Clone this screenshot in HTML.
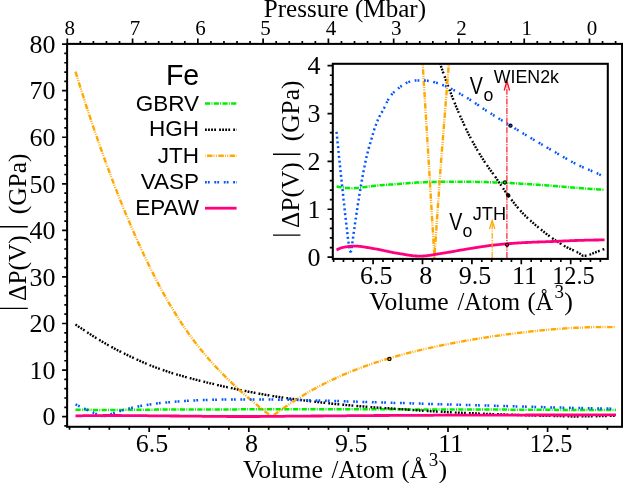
<!DOCTYPE html>
<html><head><meta charset="utf-8"><title>Fe</title>
<style>html,body{margin:0;padding:0;background:#fff}svg{display:block;will-change:transform}.se{font-family:"Liberation Serif",serif;fill:#000}.sa{font-family:"Liberation Sans",sans-serif;fill:#000}</style></head><body>
<svg width="623" height="483" viewBox="0 0 623 483">
<rect x="0" y="0" width="623" height="483" fill="#fff"/>
<defs><clipPath id="cm"><rect x="67.1" y="43.9" width="555" height="382.9"/></clipPath><clipPath id="ci"><rect x="332.8" y="63.8" width="275" height="195.1"/></clipPath></defs>
<g clip-path="url(#cm)" fill="none" stroke-linejoin="round">
<path d="M75.5,409.7 L76.6,409.7 L77.7,409.8 L78.7,409.8 L79.8,409.8 L80.9,409.8 L82.0,409.8 L83.1,409.8 L84.2,409.8 L85.2,409.8 L86.3,409.8 L87.4,409.8 L88.5,409.8 L89.6,409.8 L90.7,409.8 L91.7,409.9 L92.8,409.9 L93.9,409.9 L95.0,409.9 L96.1,409.9 L97.2,409.9 L98.2,409.9 L99.3,409.9 L100.4,409.9 L101.5,409.9 L102.6,409.9 L103.7,409.9 L104.7,409.9 L105.8,409.9 L106.9,409.9 L108.0,409.9 L109.1,409.9 L110.2,409.9 L111.2,409.9 L112.3,409.9 L113.4,409.9 L114.5,409.9 L115.6,409.9 L116.7,409.9 L117.7,409.9 L118.8,409.9 L119.9,409.9 L121.0,409.9 L122.1,409.9 L123.2,409.8 L124.2,409.8 L125.3,409.8 L126.4,409.8 L127.5,409.8 L128.6,409.8 L129.7,409.8 L130.7,409.8 L131.8,409.8 L132.9,409.8 L134.0,409.8 L135.1,409.8 L136.2,409.8 L137.2,409.8 L138.3,409.7 L139.4,409.7 L140.5,409.7 L141.6,409.7 L142.7,409.7 L143.7,409.7 L144.8,409.7 L145.9,409.7 L147.0,409.7 L148.1,409.7 L149.2,409.7 L150.2,409.7 L151.3,409.7 L152.4,409.7 L153.5,409.7 L154.6,409.7 L155.6,409.6 L156.7,409.6 L157.8,409.6 L158.9,409.6 L160.0,409.6 L161.1,409.6 L162.1,409.6 L163.2,409.6 L164.3,409.6 L165.4,409.6 L166.5,409.6 L167.6,409.6 L168.6,409.6 L169.7,409.6 L170.8,409.6 L171.9,409.6 L173.0,409.6 L174.1,409.6 L175.1,409.6 L176.2,409.6 L177.3,409.6 L178.4,409.6 L179.5,409.6 L180.6,409.6 L181.6,409.5 L182.7,409.5 L183.8,409.5 L184.9,409.5 L186.0,409.5 L187.1,409.5 L188.1,409.5 L189.2,409.5 L190.3,409.5 L191.4,409.5 L192.5,409.5 L193.6,409.5 L194.6,409.5 L195.7,409.5 L196.8,409.5 L197.9,409.5 L199.0,409.5 L200.1,409.5 L201.1,409.5 L202.2,409.5 L203.3,409.5 L204.4,409.5 L205.5,409.5 L206.6,409.5 L207.6,409.5 L208.7,409.5 L209.8,409.4 L210.9,409.4 L212.0,409.4 L213.1,409.4 L214.1,409.4 L215.2,409.4 L216.3,409.4 L217.4,409.4 L218.5,409.4 L219.6,409.4 L220.6,409.4 L221.7,409.4 L222.8,409.4 L223.9,409.4 L225.0,409.4 L226.1,409.4 L227.1,409.4 L228.2,409.4 L229.3,409.4 L230.4,409.4 L231.5,409.4 L232.6,409.4 L233.6,409.4 L234.7,409.4 L235.8,409.4 L236.9,409.4 L238.0,409.3 L239.1,409.3 L240.1,409.3 L241.2,409.3 L242.3,409.3 L243.4,409.3 L244.5,409.3 L245.6,409.3 L246.6,409.3 L247.7,409.3 L248.8,409.3 L249.9,409.3 L251.0,409.3 L252.1,409.3 L253.1,409.3 L254.2,409.3 L255.3,409.3 L256.4,409.3 L257.5,409.3 L258.5,409.3 L259.6,409.3 L260.7,409.3 L261.8,409.3 L262.9,409.3 L264.0,409.3 L265.0,409.3 L266.1,409.3 L267.2,409.3 L268.3,409.3 L269.4,409.3 L270.5,409.3 L271.5,409.3 L272.6,409.3 L273.7,409.3 L274.8,409.3 L275.9,409.3 L277.0,409.3 L278.0,409.3 L279.1,409.3 L280.2,409.3 L281.3,409.3 L282.4,409.3 L283.5,409.3 L284.5,409.3 L285.6,409.3 L286.7,409.3 L287.8,409.3 L288.9,409.3 L290.0,409.3 L291.0,409.3 L292.1,409.3 L293.2,409.3 L294.3,409.3 L295.4,409.3 L296.5,409.3 L297.5,409.3 L298.6,409.3 L299.7,409.3 L300.8,409.3 L301.9,409.3 L303.0,409.3 L304.0,409.3 L305.1,409.3 L306.2,409.3 L307.3,409.3 L308.4,409.3 L309.5,409.3 L310.5,409.3 L311.6,409.3 L312.7,409.3 L313.8,409.3 L314.9,409.3 L316.0,409.3 L317.0,409.3 L318.1,409.3 L319.2,409.3 L320.3,409.3 L321.4,409.3 L322.5,409.3 L323.5,409.3 L324.6,409.3 L325.7,409.3 L326.8,409.3 L327.9,409.3 L329.0,409.3 L330.0,409.3 L331.1,409.3 L332.2,409.3 L333.3,409.3 L334.4,409.3 L335.5,409.3 L336.5,409.3 L337.6,409.3 L338.7,409.3 L339.8,409.3 L340.9,409.3 L342.0,409.3 L343.0,409.3 L344.1,409.3 L345.2,409.3 L346.3,409.3 L347.4,409.3 L348.5,409.3 L349.5,409.3 L350.6,409.3 L351.7,409.3 L352.8,409.3 L353.9,409.3 L355.0,409.3 L356.0,409.3 L357.1,409.3 L358.2,409.3 L359.3,409.3 L360.4,409.3 L361.4,409.3 L362.5,409.3 L363.6,409.3 L364.7,409.3 L365.8,409.3 L366.9,409.3 L367.9,409.3 L369.0,409.3 L370.1,409.3 L371.2,409.3 L372.3,409.3 L373.4,409.3 L374.4,409.3 L375.5,409.3 L376.6,409.3 L377.7,409.3 L378.8,409.3 L379.9,409.3 L380.9,409.3 L382.0,409.3 L383.1,409.3 L384.2,409.3 L385.3,409.3 L386.4,409.3 L387.4,409.3 L388.5,409.3 L389.6,409.3 L390.7,409.3 L391.8,409.3 L392.9,409.3 L393.9,409.3 L395.0,409.3 L396.1,409.3 L397.2,409.3 L398.3,409.3 L399.4,409.3 L400.4,409.3 L401.5,409.3 L402.6,409.3 L403.7,409.3 L404.8,409.3 L405.9,409.4 L406.9,409.4 L408.0,409.4 L409.1,409.4 L410.2,409.4 L411.3,409.4 L412.4,409.4 L413.4,409.4 L414.5,409.4 L415.6,409.4 L416.7,409.4 L417.8,409.4 L418.9,409.4 L419.9,409.4 L421.0,409.4 L422.1,409.4 L423.2,409.4 L424.3,409.4 L425.4,409.4 L426.4,409.4 L427.5,409.4 L428.6,409.4 L429.7,409.4 L430.8,409.4 L431.9,409.4 L432.9,409.4 L434.0,409.4 L435.1,409.4 L436.2,409.4 L437.3,409.4 L438.4,409.4 L439.4,409.4 L440.5,409.4 L441.6,409.4 L442.7,409.4 L443.8,409.4 L444.9,409.5 L445.9,409.5 L447.0,409.5 L448.1,409.5 L449.2,409.5 L450.3,409.5 L451.4,409.5 L452.4,409.5 L453.5,409.5 L454.6,409.5 L455.7,409.5 L456.8,409.5 L457.9,409.5 L458.9,409.5 L460.0,409.5 L461.1,409.5 L462.2,409.5 L463.3,409.5 L464.3,409.5 L465.4,409.5 L466.5,409.5 L467.6,409.5 L468.7,409.5 L469.8,409.5 L470.8,409.5 L471.9,409.5 L473.0,409.5 L474.1,409.5 L475.2,409.5 L476.3,409.5 L477.3,409.5 L478.4,409.6 L479.5,409.6 L480.6,409.6 L481.7,409.6 L482.8,409.6 L483.8,409.6 L484.9,409.6 L486.0,409.6 L487.1,409.6 L488.2,409.6 L489.3,409.6 L490.3,409.6 L491.4,409.6 L492.5,409.6 L493.6,409.6 L494.7,409.6 L495.8,409.6 L496.8,409.6 L497.9,409.6 L499.0,409.6 L500.1,409.6 L501.2,409.6 L502.3,409.6 L503.3,409.6 L504.4,409.6 L505.5,409.6 L506.6,409.6 L507.7,409.7 L508.8,409.7 L509.8,409.7 L510.9,409.7 L512.0,409.7 L513.1,409.7 L514.2,409.7 L515.3,409.7 L516.3,409.7 L517.4,409.7 L518.5,409.7 L519.6,409.7 L520.7,409.7 L521.8,409.7 L522.8,409.7 L523.9,409.7 L525.0,409.7 L526.1,409.7 L527.2,409.7 L528.3,409.7 L529.3,409.7 L530.4,409.7 L531.5,409.7 L532.6,409.8 L533.7,409.8 L534.8,409.8 L535.8,409.8 L536.9,409.8 L538.0,409.8 L539.1,409.8 L540.2,409.8 L541.3,409.8 L542.3,409.8 L543.4,409.8 L544.5,409.8 L545.6,409.8 L546.7,409.8 L547.8,409.8 L548.8,409.8 L549.9,409.8 L551.0,409.8 L552.1,409.8 L553.2,409.8 L554.3,409.8 L555.3,409.8 L556.4,409.9 L557.5,409.9 L558.6,409.9 L559.7,409.9 L560.8,409.9 L561.8,409.9 L562.9,409.9 L564.0,409.9 L565.1,409.9 L566.2,409.9 L567.2,409.9 L568.3,409.9 L569.4,409.9 L570.5,409.9 L571.6,409.9 L572.7,409.9 L573.7,409.9 L574.8,409.9 L575.9,409.9 L577.0,409.9 L578.1,409.9 L579.2,409.9 L580.2,409.9 L581.3,409.9 L582.4,409.9 L583.5,410.0 L584.6,410.0 L585.7,410.0 L586.7,410.0 L587.8,410.0 L588.9,410.0 L590.0,410.0 L591.1,410.0 L592.2,410.0 L593.2,410.0 L594.3,410.0 L595.4,410.0 L596.5,410.0 L597.6,410.0 L598.7,410.0 L599.7,410.0 L600.8,410.0 L601.9,410.0 L603.0,410.0 L604.1,410.0 L605.2,410.0 L606.2,410.0 L607.3,410.0 L608.4,410.0 L609.5,410.0 L610.6,410.0 L611.7,410.0 L612.7,410.0 L613.8,410.0 L614.9,410.0 L616.0,410.0" stroke="#00ee00" stroke-width="2.5" stroke-dasharray="5.2 1.2 1 1.3"/>
<path d="M75.5,324.4 L76.6,325.2 L77.7,325.9 L78.7,326.7 L79.8,327.4 L80.9,328.1 L82.0,328.9 L83.1,329.6 L84.2,330.3 L85.2,331.0 L86.3,331.7 L87.4,332.4 L88.5,333.2 L89.6,333.9 L90.7,334.5 L91.7,335.2 L92.8,335.9 L93.9,336.6 L95.0,337.3 L96.1,338.0 L97.2,338.6 L98.2,339.3 L99.3,339.9 L100.4,340.6 L101.5,341.2 L102.6,341.9 L103.7,342.5 L104.7,343.1 L105.8,343.8 L106.9,344.4 L108.0,345.0 L109.1,345.6 L110.2,346.2 L111.2,346.8 L112.3,347.4 L113.4,348.0 L114.5,348.6 L115.6,349.1 L116.7,349.7 L117.7,350.3 L118.8,350.8 L119.9,351.4 L121.0,351.9 L122.1,352.5 L123.2,353.0 L124.2,353.5 L125.3,354.1 L126.4,354.6 L127.5,355.1 L128.6,355.7 L129.7,356.2 L130.7,356.7 L131.8,357.2 L132.9,357.7 L134.0,358.2 L135.1,358.7 L136.2,359.2 L137.2,359.7 L138.3,360.2 L139.4,360.7 L140.5,361.2 L141.6,361.6 L142.7,362.1 L143.7,362.6 L144.8,363.0 L145.9,363.5 L147.0,364.0 L148.1,364.4 L149.2,364.8 L150.2,365.3 L151.3,365.7 L152.4,366.2 L153.5,366.6 L154.6,367.0 L155.6,367.4 L156.7,367.8 L157.8,368.2 L158.9,368.6 L160.0,369.0 L161.1,369.4 L162.1,369.8 L163.2,370.1 L164.3,370.5 L165.4,370.9 L166.5,371.2 L167.6,371.6 L168.6,371.9 L169.7,372.3 L170.8,372.6 L171.9,373.0 L173.0,373.3 L174.1,373.6 L175.1,374.0 L176.2,374.3 L177.3,374.6 L178.4,374.9 L179.5,375.2 L180.6,375.6 L181.6,375.9 L182.7,376.2 L183.8,376.5 L184.9,376.8 L186.0,377.1 L187.1,377.4 L188.1,377.7 L189.2,378.0 L190.3,378.2 L191.4,378.5 L192.5,378.8 L193.6,379.1 L194.6,379.4 L195.7,379.7 L196.8,379.9 L197.9,380.2 L199.0,380.5 L200.1,380.8 L201.1,381.0 L202.2,381.3 L203.3,381.6 L204.4,381.8 L205.5,382.1 L206.6,382.4 L207.6,382.6 L208.7,382.9 L209.8,383.2 L210.9,383.4 L212.0,383.7 L213.1,383.9 L214.1,384.2 L215.2,384.5 L216.3,384.7 L217.4,385.0 L218.5,385.2 L219.6,385.5 L220.6,385.7 L221.7,386.0 L222.8,386.2 L223.9,386.5 L225.0,386.7 L226.1,386.9 L227.1,387.2 L228.2,387.4 L229.3,387.7 L230.4,387.9 L231.5,388.1 L232.6,388.4 L233.6,388.6 L234.7,388.8 L235.8,389.1 L236.9,389.3 L238.0,389.5 L239.1,389.7 L240.1,390.0 L241.2,390.2 L242.3,390.4 L243.4,390.6 L244.5,390.8 L245.6,391.0 L246.6,391.2 L247.7,391.5 L248.8,391.7 L249.9,391.9 L251.0,392.1 L252.1,392.3 L253.1,392.5 L254.2,392.7 L255.3,392.9 L256.4,393.1 L257.5,393.3 L258.5,393.5 L259.6,393.7 L260.7,393.9 L261.8,394.1 L262.9,394.3 L264.0,394.5 L265.0,394.7 L266.1,394.9 L267.2,395.0 L268.3,395.2 L269.4,395.4 L270.5,395.6 L271.5,395.8 L272.6,396.0 L273.7,396.1 L274.8,396.3 L275.9,396.5 L277.0,396.7 L278.0,396.8 L279.1,397.0 L280.2,397.2 L281.3,397.3 L282.4,397.5 L283.5,397.7 L284.5,397.8 L285.6,398.0 L286.7,398.1 L287.8,398.3 L288.9,398.4 L290.0,398.6 L291.0,398.7 L292.1,398.9 L293.2,399.0 L294.3,399.2 L295.4,399.3 L296.5,399.4 L297.5,399.6 L298.6,399.7 L299.7,399.9 L300.8,400.0 L301.9,400.1 L303.0,400.3 L304.0,400.4 L305.1,400.6 L306.2,400.7 L307.3,400.8 L308.4,401.0 L309.5,401.1 L310.5,401.2 L311.6,401.4 L312.7,401.5 L313.8,401.6 L314.9,401.7 L316.0,401.9 L317.0,402.0 L318.1,402.1 L319.2,402.2 L320.3,402.4 L321.4,402.5 L322.5,402.6 L323.5,402.7 L324.6,402.8 L325.7,403.0 L326.8,403.1 L327.9,403.2 L329.0,403.3 L330.0,403.4 L331.1,403.5 L332.2,403.7 L333.3,403.8 L334.4,403.9 L335.5,404.0 L336.5,404.1 L337.6,404.2 L338.7,404.3 L339.8,404.4 L340.9,404.5 L342.0,404.6 L343.0,404.7 L344.1,404.8 L345.2,405.0 L346.3,405.1 L347.4,405.2 L348.5,405.3 L349.5,405.3 L350.6,405.4 L351.7,405.5 L352.8,405.6 L353.9,405.7 L355.0,405.8 L356.0,405.9 L357.1,406.0 L358.2,406.1 L359.3,406.2 L360.4,406.3 L361.4,406.4 L362.5,406.4 L363.6,406.5 L364.7,406.6 L365.8,406.7 L366.9,406.8 L367.9,406.9 L369.0,407.0 L370.1,407.0 L371.2,407.1 L372.3,407.2 L373.4,407.3 L374.4,407.4 L375.5,407.4 L376.6,407.5 L377.7,407.6 L378.8,407.7 L379.9,407.7 L380.9,407.8 L382.0,407.9 L383.1,408.0 L384.2,408.0 L385.3,408.1 L386.4,408.2 L387.4,408.3 L388.5,408.3 L389.6,408.4 L390.7,408.5 L391.8,408.5 L392.9,408.6 L393.9,408.7 L395.0,408.8 L396.1,408.8 L397.2,408.9 L398.3,409.0 L399.4,409.1 L400.4,409.1 L401.5,409.2 L402.6,409.3 L403.7,409.4 L404.8,409.4 L405.9,409.5 L406.9,409.6 L408.0,409.7 L409.1,409.8 L410.2,409.8 L411.3,409.9 L412.4,410.0 L413.4,410.1 L414.5,410.1 L415.6,410.2 L416.7,410.3 L417.8,410.4 L418.9,410.4 L419.9,410.5 L421.0,410.6 L422.1,410.6 L423.2,410.7 L424.3,410.8 L425.4,410.8 L426.4,410.9 L427.5,411.0 L428.6,411.0 L429.7,411.1 L430.8,411.2 L431.9,411.2 L432.9,411.3 L434.0,411.4 L435.1,411.4 L436.2,411.5 L437.3,411.6 L438.4,411.6 L439.4,411.7 L440.5,411.8 L441.6,411.8 L442.7,411.9 L443.8,411.9 L444.9,412.0 L445.9,412.1 L447.0,412.1 L448.1,412.2 L449.2,412.2 L450.3,412.3 L451.4,412.4 L452.4,412.4 L453.5,412.5 L454.6,412.5 L455.7,412.6 L456.8,412.6 L457.9,412.7 L458.9,412.7 L460.0,412.8 L461.1,412.8 L462.2,412.9 L463.3,412.9 L464.3,413.0 L465.4,413.0 L466.5,413.1 L467.6,413.1 L468.7,413.2 L469.8,413.2 L470.8,413.2 L471.9,413.3 L473.0,413.3 L474.1,413.4 L475.2,413.4 L476.3,413.5 L477.3,413.5 L478.4,413.5 L479.5,413.6 L480.6,413.6 L481.7,413.7 L482.8,413.7 L483.8,413.8 L484.9,413.8 L486.0,413.9 L487.1,413.9 L488.2,413.9 L489.3,414.0 L490.3,414.0 L491.4,414.1 L492.5,414.1 L493.6,414.1 L494.7,414.2 L495.8,414.2 L496.8,414.3 L497.9,414.3 L499.0,414.3 L500.1,414.4 L501.2,414.4 L502.3,414.5 L503.3,414.5 L504.4,414.5 L505.5,414.6 L506.6,414.6 L507.7,414.7 L508.8,414.7 L509.8,414.7 L510.9,414.8 L512.0,414.8 L513.1,414.8 L514.2,414.9 L515.3,414.9 L516.3,414.9 L517.4,415.0 L518.5,415.0 L519.6,415.1 L520.7,415.1 L521.8,415.1 L522.8,415.2 L523.9,415.2 L525.0,415.2 L526.1,415.3 L527.2,415.3 L528.3,415.3 L529.3,415.4 L530.4,415.4 L531.5,415.4 L532.6,415.4 L533.7,415.5 L534.8,415.5 L535.8,415.5 L536.9,415.6 L538.0,415.6 L539.1,415.6 L540.2,415.7 L541.3,415.7 L542.3,415.7 L543.4,415.7 L544.5,415.8 L545.6,415.8 L546.7,415.8 L547.8,415.8 L548.8,415.9 L549.9,415.9 L551.0,415.9 L552.1,415.9 L553.2,416.0 L554.3,416.0 L555.3,416.0 L556.4,416.0 L557.5,416.0 L558.6,416.1 L559.7,416.1 L560.8,416.1 L561.8,416.2 L562.9,416.2 L564.0,416.2 L565.1,416.2 L566.2,416.3 L567.2,416.3 L568.3,416.3 L569.4,416.4 L570.5,416.4 L571.6,416.5 L572.7,416.5 L573.7,416.5 L574.8,416.5 L575.9,416.5 L577.0,416.5 L578.1,416.5 L579.2,416.5 L580.2,416.5 L581.3,416.5 L582.4,416.4 L583.5,416.4 L584.6,416.4 L585.7,416.4 L586.7,416.3 L587.8,416.3 L588.9,416.3 L590.0,416.3 L591.1,416.3 L592.2,416.2 L593.2,416.2 L594.3,416.2 L595.4,416.2 L596.5,416.2 L597.6,416.1 L598.7,416.1 L599.7,416.1 L600.8,416.1 L601.9,416.1 L603.0,416.0 L604.1,416.0 L605.2,416.0 L606.2,416.0 L607.3,416.0 L608.4,415.9 L609.5,415.9 L610.6,415.9 L611.7,415.9 L612.7,415.9 L613.8,415.8 L614.9,415.8 L616.0,415.8" stroke="#000000" stroke-width="2.4" stroke-dasharray="1.8 1.27 1.8 1.27 1.8 1.27 1.8 3.1"/>
<path d="M75.5,71.6 L76.6,75.1 L77.7,78.6 L78.7,82.1 L79.8,85.6 L80.9,89.1 L82.0,92.5 L83.1,95.9 L84.2,99.3 L85.2,102.7 L86.3,106.0 L87.4,109.3 L88.5,112.6 L89.6,115.9 L90.7,119.1 L91.7,122.3 L92.8,125.6 L93.9,128.7 L95.0,131.9 L96.1,135.0 L97.2,138.2 L98.2,141.3 L99.3,144.4 L100.4,147.4 L101.5,150.5 L102.6,153.5 L103.7,156.5 L104.7,159.5 L105.8,162.4 L106.9,165.4 L108.0,168.3 L109.1,171.2 L110.2,174.1 L111.2,177.0 L112.3,179.8 L113.4,182.6 L114.5,185.5 L115.6,188.2 L116.7,191.0 L117.7,193.8 L118.8,196.5 L119.9,199.2 L121.0,201.9 L122.1,204.6 L123.2,207.3 L124.2,209.9 L125.3,212.6 L126.4,215.2 L127.5,217.8 L128.6,220.3 L129.7,222.9 L130.7,225.4 L131.8,227.9 L132.9,230.4 L134.0,232.9 L135.1,235.4 L136.2,237.8 L137.2,240.3 L138.3,242.7 L139.4,245.1 L140.5,247.4 L141.6,249.8 L142.7,252.1 L143.7,254.4 L144.8,256.7 L145.9,259.0 L147.0,261.3 L148.1,263.5 L149.2,265.7 L150.2,268.0 L151.3,270.1 L152.4,272.3 L153.5,274.4 L154.6,276.6 L155.6,278.7 L156.7,280.8 L157.8,282.8 L158.9,284.9 L160.0,286.9 L161.1,288.9 L162.1,290.9 L163.2,292.9 L164.3,294.8 L165.4,296.7 L166.5,298.6 L167.6,300.5 L168.6,302.4 L169.7,304.3 L170.8,306.1 L171.9,307.9 L173.0,309.7 L174.1,311.5 L175.1,313.2 L176.2,315.0 L177.3,316.7 L178.4,318.4 L179.5,320.1 L180.6,321.7 L181.6,323.4 L182.7,325.0 L183.8,326.6 L184.9,328.2 L186.0,329.8 L187.1,331.3 L188.1,332.8 L189.2,334.4 L190.3,335.9 L191.4,337.4 L192.5,338.8 L193.6,340.3 L194.6,341.7 L195.7,343.1 L196.8,344.5 L197.9,345.9 L199.0,347.3 L200.1,348.6 L201.1,350.0 L202.2,351.3 L203.3,352.6 L204.4,353.9 L205.5,355.2 L206.6,356.5 L207.6,357.7 L208.7,359.0 L209.8,360.2 L210.9,361.4 L212.0,362.6 L213.1,363.8 L214.1,365.0 L215.2,366.2 L216.3,367.4 L217.4,368.5 L218.5,369.7 L219.6,370.8 L220.6,371.9 L221.7,373.0 L222.8,374.1 L223.9,375.2 L225.0,376.3 L226.1,377.4 L227.1,378.4 L228.2,379.5 L229.3,380.5 L230.4,381.6 L231.5,382.6 L232.6,383.6 L233.6,384.7 L234.7,385.7 L235.8,386.7 L236.9,387.7 L238.0,388.7 L239.1,389.6 L240.1,390.6 L241.2,391.6 L242.3,392.5 L243.4,393.5 L244.5,394.5 L245.6,395.4 L246.6,396.3 L247.7,397.3 L248.8,398.2 L249.9,399.1 L251.0,400.0 L252.1,400.9 L253.1,401.9 L254.2,402.8 L255.3,403.6 L256.4,404.5 L257.5,405.4 L258.5,406.3 L259.6,407.2 L260.7,408.0 L261.8,408.9 L262.9,409.8 L264.0,410.6 L265.0,411.5 L266.1,412.3 L267.2,413.1 L268.3,414.0 L269.4,414.8 L270.5,415.6 L271.5,416.4 L272.6,416.0 L273.7,415.1 L274.8,414.3 L275.9,413.6 L277.0,412.8 L278.0,412.0 L279.1,411.2 L280.2,410.4 L281.3,409.7 L282.4,408.9 L283.5,408.1 L284.5,407.4 L285.6,406.6 L286.7,405.9 L287.8,405.2 L288.9,404.4 L290.0,403.7 L291.0,403.0 L292.1,402.3 L293.2,401.6 L294.3,400.9 L295.4,400.2 L296.5,399.5 L297.5,398.8 L298.6,398.1 L299.7,397.5 L300.8,396.8 L301.9,396.1 L303.0,395.5 L304.0,394.8 L305.1,394.2 L306.2,393.5 L307.3,392.9 L308.4,392.3 L309.5,391.6 L310.5,391.0 L311.6,390.4 L312.7,389.8 L313.8,389.2 L314.9,388.6 L316.0,388.0 L317.0,387.4 L318.1,386.9 L319.2,386.3 L320.3,385.7 L321.4,385.2 L322.5,384.6 L323.5,384.0 L324.6,383.5 L325.7,383.0 L326.8,382.4 L327.9,381.9 L329.0,381.4 L330.0,380.8 L331.1,380.3 L332.2,379.8 L333.3,379.3 L334.4,378.8 L335.5,378.3 L336.5,377.8 L337.6,377.3 L338.7,376.8 L339.8,376.3 L340.9,375.8 L342.0,375.4 L343.0,374.9 L344.1,374.4 L345.2,374.0 L346.3,373.5 L347.4,373.1 L348.5,372.6 L349.5,372.2 L350.6,371.7 L351.7,371.3 L352.8,370.9 L353.9,370.4 L355.0,370.0 L356.0,369.6 L357.1,369.2 L358.2,368.7 L359.3,368.3 L360.4,367.9 L361.4,367.5 L362.5,367.1 L363.6,366.7 L364.7,366.3 L365.8,365.9 L366.9,365.6 L367.9,365.2 L369.0,364.8 L370.1,364.4 L371.2,364.0 L372.3,363.7 L373.4,363.3 L374.4,362.9 L375.5,362.6 L376.6,362.2 L377.7,361.9 L378.8,361.5 L379.9,361.2 L380.9,360.8 L382.0,360.5 L383.1,360.1 L384.2,359.8 L385.3,359.5 L386.4,359.1 L387.4,358.8 L388.5,358.5 L389.6,358.2 L390.7,357.8 L391.8,357.5 L392.9,357.2 L393.9,356.9 L395.0,356.6 L396.1,356.3 L397.2,356.0 L398.3,355.7 L399.4,355.4 L400.4,355.1 L401.5,354.8 L402.6,354.5 L403.7,354.2 L404.8,353.9 L405.9,353.6 L406.9,353.3 L408.0,353.1 L409.1,352.8 L410.2,352.5 L411.3,352.2 L412.4,352.0 L413.4,351.7 L414.5,351.4 L415.6,351.2 L416.7,350.9 L417.8,350.6 L418.9,350.4 L419.9,350.1 L421.0,349.9 L422.1,349.6 L423.2,349.3 L424.3,349.1 L425.4,348.8 L426.4,348.6 L427.5,348.4 L428.6,348.1 L429.7,347.9 L430.8,347.6 L431.9,347.4 L432.9,347.2 L434.0,346.9 L435.1,346.7 L436.2,346.5 L437.3,346.2 L438.4,346.0 L439.4,345.8 L440.5,345.6 L441.6,345.3 L442.7,345.1 L443.8,344.9 L444.9,344.7 L445.9,344.5 L447.0,344.2 L448.1,344.0 L449.2,343.8 L450.3,343.6 L451.4,343.4 L452.4,343.2 L453.5,343.0 L454.6,342.8 L455.7,342.6 L456.8,342.4 L457.9,342.2 L458.9,342.0 L460.0,341.8 L461.1,341.6 L462.2,341.4 L463.3,341.2 L464.3,341.0 L465.4,340.8 L466.5,340.6 L467.6,340.4 L468.7,340.2 L469.8,340.0 L470.8,339.9 L471.9,339.7 L473.0,339.5 L474.1,339.3 L475.2,339.1 L476.3,339.0 L477.3,338.8 L478.4,338.6 L479.5,338.4 L480.6,338.3 L481.7,338.1 L482.8,337.9 L483.8,337.7 L484.9,337.6 L486.0,337.4 L487.1,337.2 L488.2,337.1 L489.3,336.9 L490.3,336.7 L491.4,336.6 L492.5,336.4 L493.6,336.3 L494.7,336.1 L495.8,335.9 L496.8,335.8 L497.9,335.6 L499.0,335.5 L500.1,335.3 L501.2,335.2 L502.3,335.0 L503.3,334.9 L504.4,334.7 L505.5,334.6 L506.6,334.4 L507.7,334.3 L508.8,334.1 L509.8,334.0 L510.9,333.9 L512.0,333.7 L513.1,333.6 L514.2,333.4 L515.3,333.3 L516.3,333.2 L517.4,333.0 L518.5,332.9 L519.6,332.8 L520.7,332.6 L521.8,332.5 L522.8,332.4 L523.9,332.3 L525.0,332.1 L526.1,332.0 L527.2,331.9 L528.3,331.8 L529.3,331.6 L530.4,331.5 L531.5,331.4 L532.6,331.3 L533.7,331.2 L534.8,331.1 L535.8,331.0 L536.9,330.8 L538.0,330.7 L539.1,330.6 L540.2,330.5 L541.3,330.4 L542.3,330.3 L543.4,330.2 L544.5,330.1 L545.6,330.0 L546.7,329.9 L547.8,329.8 L548.8,329.7 L549.9,329.6 L551.0,329.5 L552.1,329.4 L553.2,329.3 L554.3,329.2 L555.3,329.1 L556.4,329.1 L557.5,329.0 L558.6,328.9 L559.7,328.8 L560.8,328.7 L561.8,328.7 L562.9,328.6 L564.0,328.5 L565.1,328.4 L566.2,328.4 L567.2,328.3 L568.3,328.2 L569.4,328.1 L570.5,328.1 L571.6,328.0 L572.7,328.0 L573.7,327.9 L574.8,327.8 L575.9,327.8 L577.0,327.7 L578.1,327.7 L579.2,327.6 L580.2,327.6 L581.3,327.5 L582.4,327.5 L583.5,327.4 L584.6,327.4 L585.7,327.4 L586.7,327.3 L587.8,327.3 L588.9,327.3 L590.0,327.2 L591.1,327.2 L592.2,327.2 L593.2,327.1 L594.3,327.1 L595.4,327.1 L596.5,327.1 L597.6,327.1 L598.7,327.1 L599.7,327.1 L600.8,327.0 L601.9,327.0 L603.0,327.0 L604.1,327.0 L605.2,327.0 L606.2,327.0 L607.3,327.0 L608.4,327.1 L609.5,327.1 L610.6,327.1 L611.7,327.1 L612.7,327.1 L613.8,327.1 L614.9,327.2 L616.0,327.2" stroke="#ffa800" stroke-width="2.4" stroke-dasharray="5.5 1.1 0.9 1.4 0.9 1.5"/>
<path d="M75.5,404.4 L76.6,404.9 L77.7,405.5 L78.7,406.0 L79.8,406.5 L80.9,407.0 L82.0,407.5 L83.1,408.0 L84.2,408.5 L85.2,409.0 L86.3,409.5 L87.4,410.0 L88.5,410.5 L89.6,411.0 L90.7,411.4 L91.7,411.9 L92.8,412.4 L93.9,412.9 L95.0,413.3 L96.1,413.8 L97.2,414.2 L98.2,414.6 L99.3,415.1 L100.4,415.5 L101.5,415.9 L102.6,416.0 L103.7,416.0 L104.7,416.0 L105.8,415.7 L106.9,415.4 L108.0,415.0 L109.1,414.6 L110.2,414.2 L111.2,413.9 L112.3,413.5 L113.4,413.1 L114.5,412.8 L115.6,412.4 L116.7,412.1 L117.7,411.7 L118.8,411.4 L119.9,411.0 L121.0,410.7 L122.1,410.4 L123.2,410.1 L124.2,409.8 L125.3,409.5 L126.4,409.2 L127.5,408.9 L128.6,408.6 L129.7,408.3 L130.7,408.0 L131.8,407.8 L132.9,407.5 L134.0,407.3 L135.1,407.0 L136.2,406.8 L137.2,406.6 L138.3,406.4 L139.4,406.2 L140.5,406.0 L141.6,405.8 L142.7,405.6 L143.7,405.5 L144.8,405.3 L145.9,405.1 L147.0,404.9 L148.1,404.7 L149.2,404.6 L150.2,404.4 L151.3,404.2 L152.4,404.1 L153.5,403.9 L154.6,403.8 L155.6,403.6 L156.7,403.5 L157.8,403.3 L158.9,403.2 L160.0,403.1 L161.1,403.0 L162.1,402.9 L163.2,402.8 L164.3,402.7 L165.4,402.6 L166.5,402.5 L167.6,402.4 L168.6,402.3 L169.7,402.2 L170.8,402.1 L171.9,402.0 L173.0,401.9 L174.1,401.8 L175.1,401.7 L176.2,401.6 L177.3,401.5 L178.4,401.4 L179.5,401.3 L180.6,401.2 L181.6,401.1 L182.7,401.0 L183.8,400.9 L184.9,400.9 L186.0,400.8 L187.1,400.8 L188.1,400.7 L189.2,400.6 L190.3,400.6 L191.4,400.5 L192.5,400.5 L193.6,400.4 L194.6,400.4 L195.7,400.4 L196.8,400.3 L197.9,400.3 L199.0,400.2 L200.1,400.2 L201.1,400.1 L202.2,400.1 L203.3,400.1 L204.4,400.0 L205.5,400.0 L206.6,399.9 L207.6,399.9 L208.7,399.9 L209.8,399.8 L210.9,399.8 L212.0,399.8 L213.1,399.7 L214.1,399.7 L215.2,399.7 L216.3,399.7 L217.4,399.6 L218.5,399.6 L219.6,399.6 L220.6,399.6 L221.7,399.6 L222.8,399.5 L223.9,399.5 L225.0,399.5 L226.1,399.5 L227.1,399.5 L228.2,399.5 L229.3,399.4 L230.4,399.4 L231.5,399.4 L232.6,399.4 L233.6,399.4 L234.7,399.4 L235.8,399.4 L236.9,399.4 L238.0,399.4 L239.1,399.4 L240.1,399.4 L241.2,399.4 L242.3,399.4 L243.4,399.4 L244.5,399.4 L245.6,399.4 L246.6,399.4 L247.7,399.4 L248.8,399.4 L249.9,399.4 L251.0,399.4 L252.1,399.4 L253.1,399.4 L254.2,399.4 L255.3,399.4 L256.4,399.4 L257.5,399.4 L258.5,399.4 L259.6,399.4 L260.7,399.5 L261.8,399.5 L262.9,399.5 L264.0,399.5 L265.0,399.5 L266.1,399.5 L267.2,399.5 L268.3,399.5 L269.4,399.5 L270.5,399.6 L271.5,399.6 L272.6,399.6 L273.7,399.6 L274.8,399.6 L275.9,399.6 L277.0,399.6 L278.0,399.7 L279.1,399.7 L280.2,399.7 L281.3,399.7 L282.4,399.7 L283.5,399.7 L284.5,399.8 L285.6,399.8 L286.7,399.8 L287.8,399.8 L288.9,399.8 L290.0,399.9 L291.0,399.9 L292.1,399.9 L293.2,399.9 L294.3,399.9 L295.4,400.0 L296.5,400.0 L297.5,400.0 L298.6,400.0 L299.7,400.1 L300.8,400.1 L301.9,400.1 L303.0,400.1 L304.0,400.2 L305.1,400.2 L306.2,400.2 L307.3,400.2 L308.4,400.3 L309.5,400.3 L310.5,400.3 L311.6,400.3 L312.7,400.4 L313.8,400.4 L314.9,400.4 L316.0,400.5 L317.0,400.5 L318.1,400.5 L319.2,400.6 L320.3,400.6 L321.4,400.6 L322.5,400.6 L323.5,400.7 L324.6,400.7 L325.7,400.7 L326.8,400.8 L327.9,400.8 L329.0,400.8 L330.0,400.9 L331.1,400.9 L332.2,400.9 L333.3,401.0 L334.4,401.0 L335.5,401.0 L336.5,401.0 L337.6,401.1 L338.7,401.1 L339.8,401.1 L340.9,401.2 L342.0,401.2 L343.0,401.2 L344.1,401.3 L345.2,401.3 L346.3,401.3 L347.4,401.4 L348.5,401.4 L349.5,401.4 L350.6,401.5 L351.7,401.5 L352.8,401.5 L353.9,401.6 L355.0,401.6 L356.0,401.6 L357.1,401.7 L358.2,401.7 L359.3,401.8 L360.4,401.8 L361.4,401.8 L362.5,401.9 L363.6,401.9 L364.7,401.9 L365.8,402.0 L366.9,402.0 L367.9,402.0 L369.0,402.1 L370.1,402.1 L371.2,402.1 L372.3,402.2 L373.4,402.2 L374.4,402.3 L375.5,402.3 L376.6,402.3 L377.7,402.4 L378.8,402.4 L379.9,402.4 L380.9,402.5 L382.0,402.5 L383.1,402.5 L384.2,402.6 L385.3,402.6 L386.4,402.6 L387.4,402.7 L388.5,402.7 L389.6,402.7 L390.7,402.8 L391.8,402.8 L392.9,402.8 L393.9,402.9 L395.0,402.9 L396.1,402.9 L397.2,402.9 L398.3,403.0 L399.4,403.0 L400.4,403.0 L401.5,403.1 L402.6,403.1 L403.7,403.1 L404.8,403.2 L405.9,403.2 L406.9,403.2 L408.0,403.3 L409.1,403.3 L410.2,403.3 L411.3,403.4 L412.4,403.4 L413.4,403.4 L414.5,403.5 L415.6,403.5 L416.7,403.5 L417.8,403.6 L418.9,403.6 L419.9,403.6 L421.0,403.7 L422.1,403.7 L423.2,403.7 L424.3,403.8 L425.4,403.8 L426.4,403.8 L427.5,403.8 L428.6,403.9 L429.7,403.9 L430.8,403.9 L431.9,404.0 L432.9,404.0 L434.0,404.0 L435.1,404.1 L436.2,404.1 L437.3,404.1 L438.4,404.2 L439.4,404.2 L440.5,404.2 L441.6,404.3 L442.7,404.3 L443.8,404.3 L444.9,404.4 L445.9,404.4 L447.0,404.4 L448.1,404.5 L449.2,404.5 L450.3,404.5 L451.4,404.5 L452.4,404.6 L453.5,404.6 L454.6,404.6 L455.7,404.7 L456.8,404.7 L457.9,404.7 L458.9,404.8 L460.0,404.8 L461.1,404.8 L462.2,404.9 L463.3,404.9 L464.3,404.9 L465.4,405.0 L466.5,405.0 L467.6,405.0 L468.7,405.0 L469.8,405.1 L470.8,405.1 L471.9,405.1 L473.0,405.2 L474.1,405.2 L475.2,405.2 L476.3,405.3 L477.3,405.3 L478.4,405.3 L479.5,405.4 L480.6,405.4 L481.7,405.4 L482.8,405.5 L483.8,405.5 L484.9,405.5 L486.0,405.5 L487.1,405.6 L488.2,405.6 L489.3,405.6 L490.3,405.7 L491.4,405.7 L492.5,405.7 L493.6,405.8 L494.7,405.8 L495.8,405.8 L496.8,405.8 L497.9,405.9 L499.0,405.9 L500.1,405.9 L501.2,406.0 L502.3,406.0 L503.3,406.0 L504.4,406.1 L505.5,406.1 L506.6,406.1 L507.7,406.2 L508.8,406.2 L509.8,406.2 L510.9,406.2 L512.0,406.3 L513.1,406.3 L514.2,406.3 L515.3,406.4 L516.3,406.4 L517.4,406.4 L518.5,406.5 L519.6,406.5 L520.7,406.5 L521.8,406.5 L522.8,406.6 L523.9,406.6 L525.0,406.6 L526.1,406.7 L527.2,406.7 L528.3,406.7 L529.3,406.8 L530.4,406.8 L531.5,406.8 L532.6,406.8 L533.7,406.9 L534.8,406.9 L535.8,406.9 L536.9,407.0 L538.0,407.0 L539.1,407.0 L540.2,407.1 L541.3,407.1 L542.3,407.1 L543.4,407.2 L544.5,407.2 L545.6,407.2 L546.7,407.2 L547.8,407.3 L548.8,407.3 L549.9,407.3 L551.0,407.4 L552.1,407.4 L553.2,407.4 L554.3,407.4 L555.3,407.5 L556.4,407.5 L557.5,407.5 L558.6,407.6 L559.7,407.6 L560.8,407.6 L561.8,407.6 L562.9,407.7 L564.0,407.7 L565.1,407.7 L566.2,407.7 L567.2,407.8 L568.3,407.8 L569.4,407.8 L570.5,407.8 L571.6,407.8 L572.7,407.9 L573.7,407.9 L574.8,407.9 L575.9,407.9 L577.0,408.0 L578.1,408.0 L579.2,408.0 L580.2,408.0 L581.3,408.0 L582.4,408.1 L583.5,408.1 L584.6,408.1 L585.7,408.1 L586.7,408.2 L587.8,408.2 L588.9,408.2 L590.0,408.2 L591.1,408.2 L592.2,408.3 L593.2,408.3 L594.3,408.3 L595.4,408.3 L596.5,408.4 L597.6,408.4 L598.7,408.4 L599.7,408.4 L600.8,408.4 L601.9,408.5 L603.0,408.5 L604.1,408.5 L605.2,408.5 L606.2,408.6 L607.3,408.6 L608.4,408.6 L609.5,408.6 L610.6,408.7 L611.7,408.7 L612.7,408.7 L613.8,408.8 L614.9,408.8 L616.0,408.8" stroke="#0055ff" stroke-width="2.5" stroke-dasharray="1.8 1.1 1.8 4.7"/>
<path d="M75.5,415.9 L76.6,415.9 L77.7,415.9 L78.7,415.8 L79.8,415.8 L80.9,415.8 L82.0,415.8 L83.1,415.7 L84.2,415.7 L85.2,415.7 L86.3,415.7 L87.4,415.7 L88.5,415.7 L89.6,415.6 L90.7,415.6 L91.7,415.6 L92.8,415.6 L93.9,415.6 L95.0,415.6 L96.1,415.6 L97.2,415.6 L98.2,415.6 L99.3,415.6 L100.4,415.6 L101.5,415.6 L102.6,415.6 L103.7,415.5 L104.7,415.5 L105.8,415.5 L106.9,415.5 L108.0,415.5 L109.1,415.5 L110.2,415.5 L111.2,415.5 L112.3,415.5 L113.4,415.5 L114.5,415.5 L115.6,415.5 L116.7,415.5 L117.7,415.5 L118.8,415.5 L119.9,415.5 L121.0,415.5 L122.1,415.6 L123.2,415.6 L124.2,415.6 L125.3,415.6 L126.4,415.6 L127.5,415.6 L128.6,415.6 L129.7,415.6 L130.7,415.6 L131.8,415.6 L132.9,415.6 L134.0,415.6 L135.1,415.6 L136.2,415.7 L137.2,415.7 L138.3,415.7 L139.4,415.7 L140.5,415.7 L141.6,415.7 L142.7,415.7 L143.7,415.7 L144.8,415.7 L145.9,415.7 L147.0,415.7 L148.1,415.8 L149.2,415.8 L150.2,415.8 L151.3,415.8 L152.4,415.8 L153.5,415.8 L154.6,415.8 L155.6,415.8 L156.7,415.8 L157.8,415.8 L158.9,415.8 L160.0,415.9 L161.1,415.9 L162.1,415.9 L163.2,415.9 L164.3,415.9 L165.4,415.9 L166.5,415.9 L167.6,415.9 L168.6,415.9 L169.7,415.9 L170.8,416.0 L171.9,416.0 L173.0,416.0 L174.1,416.0 L175.1,416.0 L176.2,416.0 L177.3,416.0 L178.4,416.0 L179.5,416.1 L180.6,416.1 L181.6,416.1 L182.7,416.1 L183.8,416.1 L184.9,416.1 L186.0,416.1 L187.1,416.1 L188.1,416.1 L189.2,416.1 L190.3,416.2 L191.4,416.2 L192.5,416.2 L193.6,416.2 L194.6,416.2 L195.7,416.2 L196.8,416.2 L197.9,416.2 L199.0,416.2 L200.1,416.2 L201.1,416.2 L202.2,416.3 L203.3,416.3 L204.4,416.3 L205.5,416.3 L206.6,416.3 L207.6,416.3 L208.7,416.3 L209.8,416.3 L210.9,416.3 L212.0,416.3 L213.1,416.3 L214.1,416.4 L215.2,416.4 L216.3,416.4 L217.4,416.4 L218.5,416.4 L219.6,416.4 L220.6,416.4 L221.7,416.4 L222.8,416.4 L223.9,416.4 L225.0,416.4 L226.1,416.4 L227.1,416.5 L228.2,416.5 L229.3,416.5 L230.4,416.5 L231.5,416.5 L232.6,416.5 L233.6,416.5 L234.7,416.5 L235.8,416.5 L236.9,416.5 L238.0,416.5 L239.1,416.5 L240.1,416.5 L241.2,416.5 L242.3,416.5 L243.4,416.5 L244.5,416.5 L245.6,416.5 L246.6,416.5 L247.7,416.5 L248.8,416.5 L249.9,416.5 L251.0,416.5 L252.1,416.5 L253.1,416.5 L254.2,416.5 L255.3,416.5 L256.4,416.5 L257.5,416.5 L258.5,416.5 L259.6,416.5 L260.7,416.4 L261.8,416.4 L262.9,416.4 L264.0,416.4 L265.0,416.4 L266.1,416.4 L267.2,416.4 L268.3,416.4 L269.4,416.4 L270.5,416.4 L271.5,416.4 L272.6,416.4 L273.7,416.3 L274.8,416.3 L275.9,416.3 L277.0,416.3 L278.0,416.3 L279.1,416.3 L280.2,416.3 L281.3,416.3 L282.4,416.3 L283.5,416.3 L284.5,416.3 L285.6,416.2 L286.7,416.2 L287.8,416.2 L288.9,416.2 L290.0,416.2 L291.0,416.2 L292.1,416.2 L293.2,416.2 L294.3,416.2 L295.4,416.2 L296.5,416.2 L297.5,416.2 L298.6,416.2 L299.7,416.1 L300.8,416.1 L301.9,416.1 L303.0,416.1 L304.0,416.1 L305.1,416.1 L306.2,416.1 L307.3,416.1 L308.4,416.1 L309.5,416.1 L310.5,416.1 L311.6,416.0 L312.7,416.0 L313.8,416.0 L314.9,416.0 L316.0,416.0 L317.0,416.0 L318.1,416.0 L319.2,416.0 L320.3,416.0 L321.4,416.0 L322.5,416.0 L323.5,415.9 L324.6,415.9 L325.7,415.9 L326.8,415.9 L327.9,415.9 L329.0,415.9 L330.0,415.9 L331.1,415.9 L332.2,415.9 L333.3,415.9 L334.4,415.8 L335.5,415.8 L336.5,415.8 L337.6,415.8 L338.7,415.8 L339.8,415.8 L340.9,415.8 L342.0,415.8 L343.0,415.8 L344.1,415.8 L345.2,415.8 L346.3,415.8 L347.4,415.7 L348.5,415.7 L349.5,415.7 L350.6,415.7 L351.7,415.7 L352.8,415.7 L353.9,415.7 L355.0,415.7 L356.0,415.7 L357.1,415.7 L358.2,415.7 L359.3,415.7 L360.4,415.6 L361.4,415.6 L362.5,415.6 L363.6,415.6 L364.7,415.6 L365.8,415.6 L366.9,415.6 L367.9,415.6 L369.0,415.6 L370.1,415.6 L371.2,415.6 L372.3,415.6 L373.4,415.6 L374.4,415.5 L375.5,415.5 L376.6,415.5 L377.7,415.5 L378.8,415.5 L379.9,415.5 L380.9,415.5 L382.0,415.5 L383.1,415.5 L384.2,415.5 L385.3,415.5 L386.4,415.5 L387.4,415.5 L388.5,415.5 L389.6,415.4 L390.7,415.4 L391.8,415.4 L392.9,415.4 L393.9,415.4 L395.0,415.4 L396.1,415.4 L397.2,415.4 L398.3,415.4 L399.4,415.4 L400.4,415.4 L401.5,415.4 L402.6,415.4 L403.7,415.4 L404.8,415.4 L405.9,415.4 L406.9,415.4 L408.0,415.4 L409.1,415.3 L410.2,415.3 L411.3,415.3 L412.4,415.3 L413.4,415.3 L414.5,415.3 L415.6,415.3 L416.7,415.3 L417.8,415.3 L418.9,415.3 L419.9,415.3 L421.0,415.3 L422.1,415.3 L423.2,415.3 L424.3,415.3 L425.4,415.3 L426.4,415.3 L427.5,415.3 L428.6,415.3 L429.7,415.3 L430.8,415.3 L431.9,415.3 L432.9,415.3 L434.0,415.2 L435.1,415.2 L436.2,415.2 L437.3,415.2 L438.4,415.2 L439.4,415.2 L440.5,415.2 L441.6,415.2 L442.7,415.2 L443.8,415.2 L444.9,415.2 L445.9,415.2 L447.0,415.2 L448.1,415.2 L449.2,415.2 L450.3,415.2 L451.4,415.2 L452.4,415.2 L453.5,415.2 L454.6,415.2 L455.7,415.2 L456.8,415.2 L457.9,415.2 L458.9,415.2 L460.0,415.2 L461.1,415.2 L462.2,415.2 L463.3,415.2 L464.3,415.2 L465.4,415.2 L466.5,415.2 L467.6,415.2 L468.7,415.2 L469.8,415.2 L470.8,415.2 L471.9,415.1 L473.0,415.1 L474.1,415.1 L475.2,415.1 L476.3,415.1 L477.3,415.1 L478.4,415.1 L479.5,415.1 L480.6,415.1 L481.7,415.1 L482.8,415.1 L483.8,415.1 L484.9,415.1 L486.0,415.1 L487.1,415.1 L488.2,415.1 L489.3,415.1 L490.3,415.1 L491.4,415.1 L492.5,415.1 L493.6,415.1 L494.7,415.1 L495.8,415.1 L496.8,415.1 L497.9,415.1 L499.0,415.1 L500.1,415.1 L501.2,415.1 L502.3,415.1 L503.3,415.1 L504.4,415.1 L505.5,415.1 L506.6,415.1 L507.7,415.1 L508.8,415.1 L509.8,415.1 L510.9,415.1 L512.0,415.1 L513.1,415.1 L514.2,415.1 L515.3,415.1 L516.3,415.1 L517.4,415.1 L518.5,415.1 L519.6,415.1 L520.7,415.1 L521.8,415.1 L522.8,415.1 L523.9,415.1 L525.0,415.1 L526.1,415.0 L527.2,415.0 L528.3,415.0 L529.3,415.0 L530.4,415.0 L531.5,415.0 L532.6,415.0 L533.7,415.0 L534.8,415.0 L535.8,415.0 L536.9,415.0 L538.0,415.0 L539.1,415.0 L540.2,415.0 L541.3,415.0 L542.3,415.0 L543.4,415.0 L544.5,415.0 L545.6,415.0 L546.7,415.0 L547.8,415.0 L548.8,415.0 L549.9,415.0 L551.0,415.0 L552.1,415.0 L553.2,415.0 L554.3,415.0 L555.3,415.0 L556.4,415.0 L557.5,415.0 L558.6,415.0 L559.7,415.0 L560.8,415.0 L561.8,415.0 L562.9,415.0 L564.0,415.0 L565.1,415.0 L566.2,415.0 L567.2,415.0 L568.3,415.0 L569.4,415.0 L570.5,415.0 L571.6,415.0 L572.7,415.0 L573.7,415.0 L574.8,415.0 L575.9,415.0 L577.0,415.0 L578.1,415.0 L579.2,415.0 L580.2,415.0 L581.3,415.0 L582.4,415.0 L583.5,415.0 L584.6,414.9 L585.7,414.9 L586.7,414.9 L587.8,414.9 L588.9,414.9 L590.0,414.9 L591.1,414.9 L592.2,414.9 L593.2,414.9 L594.3,414.9 L595.4,414.9 L596.5,414.9 L597.6,414.9 L598.7,414.9 L599.7,414.9 L600.8,414.9 L601.9,414.9 L603.0,414.9 L604.1,414.9 L605.2,414.9 L606.2,414.9 L607.3,414.9 L608.4,414.9 L609.5,414.9 L610.6,414.9 L611.7,414.9 L612.7,414.9 L613.8,414.9 L614.9,414.9 L616.0,414.9" stroke="#ff0080" stroke-width="2.8"/>
</g>
<circle cx="389.4" cy="358.9" r="1.6" fill="#ffa500" stroke="#000" stroke-width="1.2"/>
<g stroke="#000" fill="none">
<rect x="67.1" y="43.9" width="555" height="382.9" stroke-width="2.05"/>
<path d="M62.1,416.60H67.1M62.1,370.04H67.1M62.1,323.48H67.1M62.1,276.92H67.1M62.1,230.36H67.1M62.1,183.80H67.1M62.1,137.24H67.1M62.1,90.68H67.1M62.1,44.12H67.1M64.3,425.91H67.1M64.3,407.29H67.1M64.3,397.98H67.1M64.3,388.66H67.1M64.3,379.35H67.1M64.3,360.73H67.1M64.3,351.42H67.1M64.3,342.10H67.1M64.3,332.79H67.1M64.3,314.17H67.1M64.3,304.86H67.1M64.3,295.54H67.1M64.3,286.23H67.1M64.3,267.61H67.1M64.3,258.30H67.1M64.3,248.98H67.1M64.3,239.67H67.1M64.3,221.05H67.1M64.3,211.74H67.1M64.3,202.42H67.1M64.3,193.11H67.1M64.3,174.49H67.1M64.3,165.18H67.1M64.3,155.86H67.1M64.3,146.55H67.1M64.3,127.93H67.1M64.3,118.62H67.1M64.3,109.30H67.1M64.3,99.99H67.1M64.3,81.37H67.1M64.3,72.06H67.1M64.3,62.74H67.1M64.3,53.43H67.1M149.20,426.8V432M248.80,426.8V432M348.40,426.8V432M448.00,426.8V432M547.60,426.8V432M69.52,426.8V429.8M89.44,426.8V429.8M109.36,426.8V429.8M129.28,426.8V429.8M169.12,426.8V429.8M189.04,426.8V429.8M208.96,426.8V429.8M228.88,426.8V429.8M268.72,426.8V429.8M288.64,426.8V429.8M308.56,426.8V429.8M328.48,426.8V429.8M368.32,426.8V429.8M388.24,426.8V429.8M408.16,426.8V429.8M428.08,426.8V429.8M467.92,426.8V429.8M487.84,426.8V429.8M507.76,426.8V429.8M527.68,426.8V429.8M567.52,426.8V429.8M587.44,426.8V429.8M607.36,426.8V429.8M67.30,43.9V38.6M132.57,43.9V38.6M197.85,43.9V38.6M263.12,43.9V38.6M328.40,43.9V38.6M393.68,43.9V38.6M458.95,43.9V38.6M524.23,43.9V38.6M589.50,43.9V38.6M80.35,43.9V41.1M93.41,43.9V41.1M106.47,43.9V41.1M119.52,43.9V41.1M145.63,43.9V41.1M158.69,43.9V41.1M171.74,43.9V41.1M184.80,43.9V41.1M210.90,43.9V41.1M223.96,43.9V41.1M237.01,43.9V41.1M250.07,43.9V41.1M276.18,43.9V41.1M289.24,43.9V41.1M302.29,43.9V41.1M315.34,43.9V41.1M341.45,43.9V41.1M354.51,43.9V41.1M367.56,43.9V41.1M380.62,43.9V41.1M406.73,43.9V41.1M419.79,43.9V41.1M432.84,43.9V41.1M445.89,43.9V41.1M472.00,43.9V41.1M485.06,43.9V41.1M498.12,43.9V41.1M511.17,43.9V41.1M537.28,43.9V41.1M550.33,43.9V41.1M563.39,43.9V41.1M576.44,43.9V41.1M602.55,43.9V41.1M615.61,43.9V41.1" stroke-width="1.7"/>
</g>
<g class="se" font-size="26" text-anchor="end">
<text x="55.4" y="425.3">0</text>
<text x="55.4" y="378.7">10</text>
<text x="55.4" y="332.2">20</text>
<text x="55.4" y="285.6">30</text>
<text x="55.4" y="239.1">40</text>
<text x="55.4" y="192.5">50</text>
<text x="55.4" y="145.9">60</text>
<text x="55.4" y="99.4">70</text>
<text x="55.4" y="52.8">80</text>
</g>
<g class="se" font-size="26" text-anchor="middle">
<text x="152.0" y="452">6.5</text>
<text x="251.6" y="452">8</text>
<text x="351.2" y="452">9.5</text>
<text x="450.8" y="452" textLength="25" lengthAdjust="spacingAndGlyphs">11</text>
<text x="551.1" y="452" textLength="42.6" lengthAdjust="spacingAndGlyphs">12.5</text>
</g>
<g class="se" font-size="21" text-anchor="middle">
<text x="69.8" y="35.2">8</text>
<text x="135.1" y="35.2">7</text>
<text x="200.4" y="35.2">6</text>
<text x="265.6" y="35.2">5</text>
<text x="330.9" y="35.2">4</text>
<text x="396.2" y="35.2">3</text>
<text x="461.5" y="35.2">2</text>
<text x="526.7" y="35.2">1</text>
<text x="592.0" y="35.2">0</text>
</g>
<text class="se" font-size="24.3" x="263.7" y="17.3" textLength="162.4" lengthAdjust="spacingAndGlyphs">Pressure (Mbar)</text>
<text class="se" font-size="26" x="242.9" y="478.1" textLength="80.0" lengthAdjust="spacingAndGlyphs">Volume</text>
<text class="se" font-size="26" x="331.6" y="478.1" textLength="62.6" lengthAdjust="spacingAndGlyphs">/Atom</text>
<text class="se" font-size="26" x="401.6" y="478.1" textLength="25.8" lengthAdjust="spacingAndGlyphs">(Å</text>
<text class="se" font-size="19" x="428.8" y="466.3">3</text>
<text class="se" font-size="26" x="438.4" y="478.1">)</text>
<g transform="translate(26,0) rotate(-90)">
<text class="se" font-size="25.4" x="-300.9" y="0" >ΔP(V)</text>
<text class="se" font-size="25.4" x="-214.2" y="0" >(GPa)</text>
</g>
<path d="M0,308.4H27.8M0,226.8H27.8" stroke="#000" stroke-width="1.4" fill="none"/>
<text class="sa" font-size="28.6" x="165.9" y="84.9">Fe</text>
<text class="sa" font-size="22.5" text-anchor="end" x="199" y="110.9">GBRV</text>
<path d="M205,103.6H236.6" stroke="#00ee00" stroke-width="2.5" fill="none" stroke-dasharray="5.2 1.2 1 1.3"/>
<text class="sa" font-size="22.5" text-anchor="end" x="199" y="135.9">HGH</text>
<path d="M205,129.8H236.6" stroke="#000000" stroke-width="2.4" fill="none" stroke-dasharray="1.8 1.27 1.8 1.27 1.8 1.27 1.8 3.1"/>
<text class="sa" font-size="22.5" text-anchor="end" x="199" y="162.9">JTH</text>
<path d="M205,155.8H236.6" stroke="#ffa800" stroke-width="2.4" fill="none" stroke-dasharray="5.5 1.1 0.9 1.4 0.9 1.5" stroke-dashoffset="9.3"/>
<text class="sa" font-size="22.5" text-anchor="end" x="199" y="189.3">VASP</text>
<path d="M205,182.2H236.6" stroke="#0055ff" stroke-width="2.5" fill="none" stroke-dasharray="1.8 1.1 1.8 4.7"/>
<text class="sa" font-size="22.5" text-anchor="end" x="199" y="215">EPAW</text>
<path d="M205,208.2H236.6" stroke="#ff0080" stroke-width="2.8" fill="none"/>
<rect x="300" y="50" width="323" height="270" fill="#fff" opacity="0"/>
<g clip-path="url(#ci)" fill="none" stroke-linejoin="round">
<path d="M336.5,186.5 L337.1,186.6 L337.6,186.7 L338.2,186.8 L338.7,186.9 L339.2,187.0 L339.8,187.1 L340.3,187.2 L340.8,187.3 L341.4,187.3 L341.9,187.4 L342.5,187.5 L343.0,187.6 L343.5,187.6 L344.1,187.7 L344.6,187.8 L345.1,187.8 L345.7,187.9 L346.2,187.9 L346.8,188.0 L347.3,188.0 L347.8,188.0 L348.4,188.1 L348.9,188.1 L349.4,188.1 L350.0,188.2 L350.5,188.2 L351.1,188.2 L351.6,188.2 L352.1,188.2 L352.7,188.2 L353.2,188.2 L353.7,188.2 L354.3,188.2 L354.8,188.1 L355.3,188.1 L355.9,188.1 L356.4,188.0 L357.0,188.0 L357.5,188.0 L358.0,187.9 L358.6,187.9 L359.1,187.8 L359.6,187.7 L360.2,187.7 L360.7,187.6 L361.3,187.6 L361.8,187.5 L362.3,187.4 L362.9,187.3 L363.4,187.3 L363.9,187.2 L364.5,187.1 L365.0,187.0 L365.6,187.0 L366.1,186.9 L366.6,186.8 L367.2,186.7 L367.7,186.7 L368.2,186.6 L368.8,186.5 L369.3,186.4 L369.9,186.4 L370.4,186.3 L370.9,186.2 L371.5,186.2 L372.0,186.1 L372.5,186.0 L373.1,186.0 L373.6,185.9 L374.1,185.9 L374.7,185.8 L375.2,185.8 L375.8,185.7 L376.3,185.7 L376.8,185.6 L377.4,185.6 L377.9,185.5 L378.4,185.5 L379.0,185.4 L379.5,185.4 L380.1,185.3 L380.6,185.3 L381.1,185.3 L381.7,185.2 L382.2,185.2 L382.7,185.1 L383.3,185.1 L383.8,185.0 L384.4,185.0 L384.9,185.0 L385.4,184.9 L386.0,184.9 L386.5,184.8 L387.0,184.8 L387.6,184.8 L388.1,184.7 L388.7,184.7 L389.2,184.6 L389.7,184.6 L390.3,184.6 L390.8,184.5 L391.3,184.5 L391.9,184.4 L392.4,184.4 L393.0,184.4 L393.5,184.3 L394.0,184.3 L394.6,184.2 L395.1,184.2 L395.6,184.2 L396.2,184.1 L396.7,184.1 L397.2,184.0 L397.8,184.0 L398.3,184.0 L398.9,183.9 L399.4,183.9 L399.9,183.8 L400.5,183.8 L401.0,183.8 L401.5,183.7 L402.1,183.7 L402.6,183.6 L403.2,183.6 L403.7,183.5 L404.2,183.5 L404.8,183.5 L405.3,183.4 L405.8,183.4 L406.4,183.3 L406.9,183.3 L407.5,183.2 L408.0,183.2 L408.5,183.2 L409.1,183.1 L409.6,183.1 L410.1,183.0 L410.7,183.0 L411.2,183.0 L411.8,182.9 L412.3,182.9 L412.8,182.9 L413.4,182.8 L413.9,182.8 L414.4,182.7 L415.0,182.7 L415.5,182.7 L416.0,182.6 L416.6,182.6 L417.1,182.6 L417.7,182.6 L418.2,182.5 L418.7,182.5 L419.3,182.5 L419.8,182.5 L420.3,182.4 L420.9,182.4 L421.4,182.4 L422.0,182.4 L422.5,182.3 L423.0,182.3 L423.6,182.3 L424.1,182.3 L424.6,182.3 L425.2,182.2 L425.7,182.2 L426.3,182.2 L426.8,182.2 L427.3,182.1 L427.9,182.1 L428.4,182.1 L428.9,182.1 L429.5,182.1 L430.0,182.0 L430.6,182.0 L431.1,182.0 L431.6,182.0 L432.2,182.0 L432.7,181.9 L433.2,181.9 L433.8,181.9 L434.3,181.9 L434.9,181.9 L435.4,181.9 L435.9,181.9 L436.5,181.8 L437.0,181.8 L437.5,181.8 L438.1,181.8 L438.6,181.8 L439.1,181.8 L439.7,181.8 L440.2,181.8 L440.8,181.8 L441.3,181.8 L441.8,181.8 L442.4,181.8 L442.9,181.8 L443.4,181.8 L444.0,181.8 L444.5,181.8 L445.1,181.8 L445.6,181.8 L446.1,181.8 L446.7,181.8 L447.2,181.8 L447.7,181.8 L448.3,181.8 L448.8,181.8 L449.4,181.8 L449.9,181.8 L450.4,181.8 L451.0,181.8 L451.5,181.8 L452.0,181.8 L452.6,181.8 L453.1,181.8 L453.7,181.8 L454.2,181.8 L454.7,181.8 L455.3,181.8 L455.8,181.8 L456.3,181.8 L456.9,181.8 L457.4,181.8 L457.9,181.8 L458.5,181.8 L459.0,181.8 L459.6,181.8 L460.1,181.8 L460.6,181.8 L461.2,181.8 L461.7,181.8 L462.2,181.8 L462.8,181.8 L463.3,181.8 L463.9,181.8 L464.4,181.8 L464.9,181.8 L465.5,181.8 L466.0,181.8 L466.5,181.8 L467.1,181.8 L467.6,181.8 L468.2,181.8 L468.7,181.8 L469.2,181.8 L469.8,181.8 L470.3,181.8 L470.8,181.8 L471.4,181.8 L471.9,181.8 L472.5,181.8 L473.0,181.8 L473.5,181.8 L474.1,181.8 L474.6,181.8 L475.1,181.8 L475.7,181.8 L476.2,181.9 L476.8,181.9 L477.3,181.9 L477.8,181.9 L478.4,181.9 L478.9,181.9 L479.4,181.9 L480.0,181.9 L480.5,181.9 L481.0,182.0 L481.6,182.0 L482.1,182.0 L482.7,182.0 L483.2,182.0 L483.7,182.0 L484.3,182.1 L484.8,182.1 L485.3,182.1 L485.9,182.1 L486.4,182.1 L487.0,182.1 L487.5,182.2 L488.0,182.2 L488.6,182.2 L489.1,182.2 L489.6,182.2 L490.2,182.2 L490.7,182.3 L491.3,182.3 L491.8,182.3 L492.3,182.3 L492.9,182.3 L493.4,182.4 L493.9,182.4 L494.5,182.4 L495.0,182.4 L495.6,182.4 L496.1,182.4 L496.6,182.5 L497.2,182.5 L497.7,182.5 L498.2,182.5 L498.8,182.5 L499.3,182.6 L499.8,182.6 L500.4,182.6 L500.9,182.6 L501.5,182.7 L502.0,182.7 L502.5,182.7 L503.1,182.7 L503.6,182.7 L504.1,182.8 L504.7,182.8 L505.2,182.8 L505.8,182.9 L506.3,182.9 L506.8,182.9 L507.4,182.9 L507.9,183.0 L508.4,183.0 L509.0,183.0 L509.5,183.0 L510.1,183.1 L510.6,183.1 L511.1,183.1 L511.7,183.2 L512.2,183.2 L512.7,183.2 L513.3,183.3 L513.8,183.3 L514.4,183.3 L514.9,183.3 L515.4,183.4 L516.0,183.4 L516.5,183.4 L517.0,183.5 L517.6,183.5 L518.1,183.5 L518.6,183.6 L519.2,183.6 L519.7,183.6 L520.3,183.7 L520.8,183.7 L521.3,183.7 L521.9,183.7 L522.4,183.8 L522.9,183.8 L523.5,183.8 L524.0,183.9 L524.6,183.9 L525.1,183.9 L525.6,184.0 L526.2,184.0 L526.7,184.0 L527.2,184.1 L527.8,184.1 L528.3,184.1 L528.9,184.2 L529.4,184.2 L529.9,184.2 L530.5,184.3 L531.0,184.3 L531.5,184.3 L532.1,184.4 L532.6,184.4 L533.2,184.4 L533.7,184.5 L534.2,184.5 L534.8,184.6 L535.3,184.6 L535.8,184.6 L536.4,184.7 L536.9,184.7 L537.5,184.7 L538.0,184.8 L538.5,184.8 L539.1,184.8 L539.6,184.9 L540.1,184.9 L540.7,185.0 L541.2,185.0 L541.7,185.0 L542.3,185.1 L542.8,185.1 L543.4,185.1 L543.9,185.2 L544.4,185.2 L545.0,185.3 L545.5,185.3 L546.0,185.3 L546.6,185.4 L547.1,185.4 L547.7,185.5 L548.2,185.5 L548.7,185.5 L549.3,185.6 L549.8,185.6 L550.3,185.7 L550.9,185.7 L551.4,185.7 L552.0,185.8 L552.5,185.8 L553.0,185.9 L553.6,185.9 L554.1,185.9 L554.6,186.0 L555.2,186.0 L555.7,186.1 L556.3,186.1 L556.8,186.2 L557.3,186.2 L557.9,186.3 L558.4,186.3 L558.9,186.3 L559.5,186.4 L560.0,186.4 L560.5,186.5 L561.1,186.5 L561.6,186.6 L562.2,186.6 L562.7,186.7 L563.2,186.7 L563.8,186.8 L564.3,186.8 L564.8,186.9 L565.4,186.9 L565.9,187.0 L566.5,187.0 L567.0,187.1 L567.5,187.1 L568.1,187.2 L568.6,187.2 L569.1,187.3 L569.7,187.3 L570.2,187.3 L570.8,187.4 L571.3,187.4 L571.8,187.5 L572.4,187.5 L572.9,187.6 L573.4,187.6 L574.0,187.7 L574.5,187.7 L575.1,187.8 L575.6,187.8 L576.1,187.9 L576.7,187.9 L577.2,187.9 L577.7,188.0 L578.3,188.0 L578.8,188.1 L579.4,188.1 L579.9,188.1 L580.4,188.2 L581.0,188.2 L581.5,188.3 L582.0,188.3 L582.6,188.3 L583.1,188.4 L583.6,188.4 L584.2,188.5 L584.7,188.5 L585.3,188.5 L585.8,188.6 L586.3,188.6 L586.9,188.6 L587.4,188.7 L587.9,188.7 L588.5,188.8 L589.0,188.8 L589.6,188.8 L590.1,188.9 L590.6,188.9 L591.2,188.9 L591.7,189.0 L592.2,189.0 L592.8,189.0 L593.3,189.1 L593.9,189.1 L594.4,189.2 L594.9,189.2 L595.5,189.2 L596.0,189.3 L596.5,189.3 L597.1,189.3 L597.6,189.4 L598.2,189.4 L598.7,189.4 L599.2,189.5 L599.8,189.5 L600.3,189.5 L600.8,189.6 L601.4,189.6 L601.9,189.6 L602.4,189.7 L603.0,189.7 L603.5,189.7 L604.1,189.7 L604.6,189.8" stroke="#00ee00" stroke-width="2.5" stroke-dasharray="5.2 1.2 1 1.3"/>
<path d="M336.5,-690.3 L337.1,-682.6 L337.6,-674.9 L338.2,-667.3 L338.7,-659.7 L339.2,-652.1 L339.8,-644.6 L340.3,-637.2 L340.8,-629.8 L341.4,-622.4 L341.9,-615.0 L342.5,-607.8 L343.0,-600.5 L343.5,-593.3 L344.1,-586.2 L344.6,-579.1 L345.1,-572.0 L345.7,-565.0 L346.2,-558.1 L346.8,-551.2 L347.3,-544.3 L347.8,-537.5 L348.4,-530.8 L348.9,-524.1 L349.4,-517.5 L350.0,-510.9 L350.5,-504.3 L351.1,-497.9 L351.6,-491.4 L352.1,-485.1 L352.7,-478.8 L353.2,-472.5 L353.7,-466.3 L354.3,-460.2 L354.8,-454.1 L355.3,-448.1 L355.9,-442.1 L356.4,-436.2 L357.0,-430.4 L357.5,-424.6 L358.0,-418.9 L358.6,-413.2 L359.1,-407.6 L359.6,-402.0 L360.2,-396.5 L360.7,-391.0 L361.3,-385.5 L361.8,-380.0 L362.3,-374.6 L362.9,-369.2 L363.4,-363.9 L363.9,-358.6 L364.5,-353.3 L365.0,-348.1 L365.6,-342.9 L366.1,-337.8 L366.6,-332.6 L367.2,-327.6 L367.7,-322.5 L368.2,-317.6 L368.8,-312.6 L369.3,-307.7 L369.9,-302.9 L370.4,-298.1 L370.9,-293.3 L371.5,-288.6 L372.0,-283.9 L372.5,-279.3 L373.1,-274.8 L373.6,-270.2 L374.1,-265.8 L374.7,-261.4 L375.2,-257.0 L375.8,-252.7 L376.3,-248.5 L376.8,-244.3 L377.4,-240.1 L377.9,-236.1 L378.4,-232.0 L379.0,-228.1 L379.5,-224.2 L380.1,-220.3 L380.6,-216.6 L381.1,-212.8 L381.7,-209.1 L382.2,-205.5 L382.7,-201.9 L383.3,-198.3 L383.8,-194.8 L384.4,-191.3 L384.9,-187.8 L385.4,-184.4 L386.0,-181.1 L386.5,-177.7 L387.0,-174.4 L387.6,-171.2 L388.1,-167.9 L388.7,-164.7 L389.2,-161.5 L389.7,-158.4 L390.3,-155.3 L390.8,-152.2 L391.3,-149.1 L391.9,-146.1 L392.4,-143.1 L393.0,-140.1 L393.5,-137.1 L394.0,-134.2 L394.6,-131.3 L395.1,-128.4 L395.6,-125.5 L396.2,-122.6 L396.7,-119.8 L397.2,-116.9 L397.8,-114.1 L398.3,-111.3 L398.9,-108.5 L399.4,-105.7 L399.9,-102.9 L400.5,-100.2 L401.0,-97.4 L401.5,-94.7 L402.1,-91.9 L402.6,-89.2 L403.2,-86.5 L403.7,-83.8 L404.2,-81.1 L404.8,-78.5 L405.3,-75.8 L405.8,-73.2 L406.4,-70.6 L406.9,-67.9 L407.5,-65.4 L408.0,-62.8 L408.5,-60.2 L409.1,-57.7 L409.6,-55.1 L410.1,-52.6 L410.7,-50.1 L411.2,-47.6 L411.8,-45.2 L412.3,-42.7 L412.8,-40.3 L413.4,-37.9 L413.9,-35.5 L414.4,-33.1 L415.0,-30.7 L415.5,-28.3 L416.0,-26.0 L416.6,-23.7 L417.1,-21.4 L417.7,-19.1 L418.2,-16.8 L418.7,-14.5 L419.3,-12.3 L419.8,-10.0 L420.3,-7.8 L420.9,-5.6 L421.4,-3.4 L422.0,-1.3 L422.5,0.9 L423.0,3.0 L423.6,5.1 L424.1,7.2 L424.6,9.4 L425.2,11.4 L425.7,13.5 L426.3,15.6 L426.8,17.7 L427.3,19.7 L427.9,21.7 L428.4,23.8 L428.9,25.8 L429.5,27.8 L430.0,29.7 L430.6,31.7 L431.1,33.7 L431.6,35.6 L432.2,37.5 L432.7,39.4 L433.2,41.3 L433.8,43.2 L434.3,45.0 L434.9,46.8 L435.4,48.7 L435.9,50.4 L436.5,52.2 L437.0,54.0 L437.5,55.7 L438.1,57.4 L438.6,59.1 L439.1,60.7 L439.7,62.4 L440.2,64.0 L440.8,65.6 L441.3,67.1 L441.8,68.7 L442.4,70.2 L442.9,71.8 L443.4,73.3 L444.0,74.8 L444.5,76.3 L445.1,77.8 L445.6,79.3 L446.1,80.8 L446.7,82.3 L447.2,83.7 L447.7,85.2 L448.3,86.6 L448.8,88.0 L449.4,89.5 L449.9,90.9 L450.4,92.3 L451.0,93.6 L451.5,95.0 L452.0,96.4 L452.6,97.7 L453.1,99.1 L453.7,100.4 L454.2,101.8 L454.7,103.1 L455.3,104.4 L455.8,105.7 L456.3,107.0 L456.9,108.3 L457.4,109.5 L457.9,110.8 L458.5,112.1 L459.0,113.3 L459.6,114.5 L460.1,115.8 L460.6,117.0 L461.2,118.2 L461.7,119.4 L462.2,120.6 L462.8,121.8 L463.3,122.9 L463.9,124.1 L464.4,125.3 L464.9,126.4 L465.5,127.6 L466.0,128.7 L466.5,129.8 L467.1,130.9 L467.6,132.0 L468.2,133.1 L468.7,134.2 L469.2,135.3 L469.8,136.3 L470.3,137.4 L470.8,138.4 L471.4,139.5 L471.9,140.5 L472.5,141.5 L473.0,142.5 L473.5,143.4 L474.1,144.4 L474.6,145.4 L475.1,146.3 L475.7,147.3 L476.2,148.2 L476.8,149.1 L477.3,150.0 L477.8,150.9 L478.4,151.8 L478.9,152.7 L479.4,153.6 L480.0,154.5 L480.5,155.4 L481.0,156.2 L481.6,157.1 L482.1,157.9 L482.7,158.8 L483.2,159.6 L483.7,160.5 L484.3,161.3 L484.8,162.1 L485.3,162.9 L485.9,163.7 L486.4,164.5 L487.0,165.3 L487.5,166.0 L488.0,166.8 L488.6,167.6 L489.1,168.3 L489.6,169.1 L490.2,169.8 L490.7,170.6 L491.3,171.3 L491.8,172.0 L492.3,172.8 L492.9,173.5 L493.4,174.3 L493.9,175.0 L494.5,175.8 L495.0,176.5 L495.6,177.3 L496.1,178.0 L496.6,178.8 L497.2,179.6 L497.7,180.4 L498.2,181.2 L498.8,182.0 L499.3,182.8 L499.8,183.5 L500.4,184.3 L500.9,185.1 L501.5,185.9 L502.0,186.7 L502.5,187.5 L503.1,188.3 L503.6,189.1 L504.1,189.9 L504.7,190.6 L505.2,191.4 L505.8,192.2 L506.3,192.9 L506.8,193.7 L507.4,194.4 L507.9,195.1 L508.4,195.8 L509.0,196.5 L509.5,197.2 L510.1,197.9 L510.6,198.6 L511.1,199.3 L511.7,200.0 L512.2,200.7 L512.7,201.4 L513.3,202.1 L513.8,202.7 L514.4,203.4 L514.9,204.1 L515.4,204.8 L516.0,205.4 L516.5,206.1 L517.0,206.7 L517.6,207.4 L518.1,208.0 L518.6,208.6 L519.2,209.3 L519.7,209.9 L520.3,210.5 L520.8,211.1 L521.3,211.7 L521.9,212.3 L522.4,212.9 L522.9,213.4 L523.5,214.0 L524.0,214.6 L524.6,215.1 L525.1,215.7 L525.6,216.2 L526.2,216.7 L526.7,217.2 L527.2,217.7 L527.8,218.3 L528.3,218.8 L528.9,219.2 L529.4,219.7 L529.9,220.2 L530.5,220.7 L531.0,221.2 L531.5,221.6 L532.1,222.1 L532.6,222.6 L533.2,223.0 L533.7,223.5 L534.2,224.0 L534.8,224.4 L535.3,224.9 L535.8,225.3 L536.4,225.7 L536.9,226.2 L537.5,226.6 L538.0,227.1 L538.5,227.5 L539.1,228.0 L539.6,228.4 L540.1,228.9 L540.7,229.3 L541.2,229.7 L541.7,230.2 L542.3,230.6 L542.8,231.0 L543.4,231.5 L543.9,231.9 L544.4,232.3 L545.0,232.7 L545.5,233.1 L546.0,233.6 L546.6,234.0 L547.1,234.4 L547.7,234.8 L548.2,235.2 L548.7,235.6 L549.3,236.0 L549.8,236.4 L550.3,236.8 L550.9,237.1 L551.4,237.5 L552.0,237.9 L552.5,238.3 L553.0,238.7 L553.6,239.0 L554.1,239.4 L554.6,239.8 L555.2,240.1 L555.7,240.5 L556.3,240.8 L556.8,241.2 L557.3,241.5 L557.9,241.9 L558.4,242.2 L558.9,242.6 L559.5,242.9 L560.0,243.3 L560.5,243.6 L561.1,243.9 L561.6,244.3 L562.2,244.6 L562.7,244.9 L563.2,245.2 L563.8,245.5 L564.3,245.9 L564.8,246.2 L565.4,246.5 L565.9,246.8 L566.5,247.1 L567.0,247.4 L567.5,247.7 L568.1,247.9 L568.6,248.2 L569.1,248.5 L569.7,248.7 L570.2,249.0 L570.8,249.2 L571.3,249.5 L571.8,249.7 L572.4,249.9 L572.9,250.2 L573.4,250.4 L574.0,250.7 L574.5,250.9 L575.1,251.2 L575.6,251.4 L576.1,251.7 L576.7,251.9 L577.2,252.2 L577.7,252.5 L578.3,252.8 L578.8,253.1 L579.4,253.4 L579.9,253.7 L580.4,254.0 L581.0,254.4 L581.5,254.8 L582.0,255.2 L582.6,255.6 L583.1,255.7 L583.6,255.7 L584.2,255.7 L584.7,255.7 L585.3,255.7 L585.8,255.7 L586.3,255.7 L586.9,255.7 L587.4,255.6 L587.9,255.4 L588.5,255.1 L589.0,254.9 L589.6,254.7 L590.1,254.5 L590.6,254.3 L591.2,254.0 L591.7,253.8 L592.2,253.6 L592.8,253.4 L593.3,253.2 L593.9,253.0 L594.4,252.8 L594.9,252.6 L595.5,252.4 L596.0,252.1 L596.5,251.9 L597.1,251.7 L597.6,251.5 L598.2,251.3 L598.7,251.1 L599.2,250.9 L599.8,250.7 L600.3,250.5 L600.8,250.3 L601.4,250.1 L601.9,249.9 L602.4,249.7 L603.0,249.5 L603.5,249.3 L604.1,249.2 L604.6,249.0" stroke="#000000" stroke-width="2.4" stroke-dasharray="1.8 1.27 1.8 1.27 1.8 1.27 1.8 3.1"/>
<path d="M422.4,58 L422.8,65.6 L428.9,164.9 L434.4,257.1 L440.8,164.9 L448.7,65.6 L449.3,58" stroke="#ffa800" stroke-width="2.4" stroke-dasharray="5.5 1.1 0.9 1.4 0.9 1.5"/>
<path d="M336.5,131.9 L337.1,137.4 L337.6,142.8 L338.2,148.2 L338.7,153.5 L339.2,158.7 L339.8,163.8 L340.3,168.9 L340.8,174.0 L341.4,179.1 L341.9,184.2 L342.5,189.2 L343.0,194.2 L343.5,199.2 L344.1,204.1 L344.6,209.0 L345.1,213.9 L345.7,218.6 L346.2,223.3 L346.8,228.0 L347.3,232.6 L347.8,237.1 L348.4,241.5 L348.9,245.8 L349.4,250.0 L350.0,251.4 L350.5,251.4 L351.1,251.4 L351.6,248.2 L352.1,244.3 L352.7,240.4 L353.2,236.5 L353.7,232.7 L354.3,228.9 L354.8,225.1 L355.3,221.4 L355.9,217.7 L356.4,214.1 L357.0,210.5 L357.5,207.0 L358.0,203.5 L358.6,200.1 L359.1,196.7 L359.6,193.4 L360.2,190.1 L360.7,186.9 L361.3,183.8 L361.8,180.7 L362.3,177.7 L362.9,174.8 L363.4,171.9 L363.9,169.2 L364.5,166.5 L365.0,163.9 L365.6,161.3 L366.1,158.9 L366.6,156.6 L367.2,154.4 L367.7,152.2 L368.2,150.2 L368.8,148.2 L369.3,146.3 L369.9,144.4 L370.4,142.5 L370.9,140.7 L371.5,138.9 L372.0,137.1 L372.5,135.2 L373.1,133.4 L373.6,131.7 L374.1,129.9 L374.7,128.2 L375.2,126.6 L375.8,125.1 L376.3,123.6 L376.8,122.2 L377.4,120.9 L377.9,119.7 L378.4,118.6 L379.0,117.5 L379.5,116.4 L380.1,115.4 L380.6,114.4 L381.1,113.4 L381.7,112.5 L382.2,111.5 L382.7,110.6 L383.3,109.6 L383.8,108.6 L384.4,107.5 L384.9,106.5 L385.4,105.3 L386.0,104.2" stroke="#0055ff" stroke-width="2.5" stroke-dasharray="2 2.8"/>
<path d="M386.5,103.1 L387.0,102.0 L387.6,100.9 L388.1,99.8 L388.7,98.8 L389.2,97.9 L389.7,97.0 L390.3,96.2 L390.8,95.5 L391.3,94.9 L391.9,94.3 L392.4,93.7 L393.0,93.1 L393.5,92.6 L394.0,92.1 L394.6,91.6 L395.1,91.1 L395.6,90.7 L396.2,90.2 L396.7,89.8 L397.2,89.3 L397.8,88.9 L398.3,88.4 L398.9,88.0 L399.4,87.6 L399.9,87.1 L400.5,86.7 L401.0,86.3 L401.5,85.8 L402.1,85.4 L402.6,85.0 L403.2,84.7 L403.7,84.3 L404.2,84.0 L404.8,83.7 L405.3,83.4 L405.8,83.1 L406.4,82.9 L406.9,82.7 L407.5,82.5 L408.0,82.3 L408.5,82.1 L409.1,81.9 L409.6,81.7 L410.1,81.5 L410.7,81.3 L411.2,81.2 L411.8,81.0 L412.3,80.9 L412.8,80.8 L413.4,80.7 L413.9,80.6 L414.4,80.6 L415.0,80.5 L415.5,80.5 L416.0,80.5 L416.6,80.5 L417.1,80.5 L417.7,80.5 L418.2,80.5 L418.7,80.5 L419.3,80.5 L419.8,80.5 L420.3,80.5 L420.9,80.5 L421.4,80.5 L422.0,80.5 L422.5,80.5 L423.0,80.5 L423.6,80.5 L424.1,80.5 L424.6,80.5 L425.2,80.5 L425.7,80.6 L426.3,80.6 L426.8,80.7 L427.3,80.7 L427.9,80.8 L428.4,80.9 L428.9,81.0 L429.5,81.1 L430.0,81.2 L430.6,81.3 L431.1,81.5 L431.6,81.6 L432.2,81.7 L432.7,81.8 L433.2,81.9 L433.8,82.1 L434.3,82.2 L434.9,82.3 L435.4,82.5 L435.9,82.6 L436.5,82.8 L437.0,83.0 L437.5,83.1 L438.1,83.3 L438.6,83.5 L439.1,83.7 L439.7,83.9 L440.2,84.1 L440.8,84.3 L441.3,84.5 L441.8,84.7 L442.4,84.9 L442.9,85.1 L443.4,85.3 L444.0,85.5 L444.5,85.7 L445.1,85.9 L445.6,86.2 L446.1,86.4 L446.7,86.6 L447.2,86.8 L447.7,87.1 L448.3,87.3 L448.8,87.6 L449.4,87.8 L449.9,88.1 L450.4,88.3 L451.0,88.6 L451.5,88.8 L452.0,89.1 L452.6,89.4 L453.1,89.7 L453.7,90.0 L454.2,90.3 L454.7,90.6 L455.3,90.9 L455.8,91.2 L456.3,91.5 L456.9,91.9 L457.4,92.2 L457.9,92.5 L458.5,92.8 L459.0,93.1 L459.6,93.5 L460.1,93.8 L460.6,94.1 L461.2,94.4 L461.7,94.7 L462.2,95.0 L462.8,95.3 L463.3,95.6 L463.9,96.0 L464.4,96.3 L464.9,96.6 L465.5,96.9 L466.0,97.2 L466.5,97.5 L467.1,97.9 L467.6,98.2 L468.2,98.5 L468.7,98.8 L469.2,99.2 L469.8,99.5 L470.3,99.9 L470.8,100.2 L471.4,100.6 L471.9,100.9 L472.5,101.3 L473.0,101.6 L473.5,102.0 L474.1,102.3 L474.6,102.7 L475.1,103.1 L475.7,103.4 L476.2,103.8 L476.8,104.2 L477.3,104.5 L477.8,104.9 L478.4,105.3 L478.9,105.7 L479.4,106.0 L480.0,106.4 L480.5,106.8 L481.0,107.1 L481.6,107.5 L482.1,107.9 L482.7,108.2 L483.2,108.6 L483.7,108.9 L484.3,109.3 L484.8,109.7 L485.3,110.0 L485.9,110.3 L486.4,110.7 L487.0,111.0 L487.5,111.4 L488.0,111.7 L488.6,112.1 L489.1,112.4 L489.6,112.8 L490.2,113.1 L490.7,113.4 L491.3,113.8 L491.8,114.1 L492.3,114.5 L492.9,114.8 L493.4,115.1 L493.9,115.5 L494.5,115.8 L495.0,116.1 L495.6,116.5 L496.1,116.8 L496.6,117.1 L497.2,117.5 L497.7,117.8 L498.2,118.1 L498.8,118.5 L499.3,118.8 L499.8,119.1 L500.4,119.5 L500.9,119.8 L501.5,120.1 L502.0,120.5 L502.5,120.8 L503.1,121.1 L503.6,121.5 L504.1,121.8 L504.7,122.1 L505.2,122.4 L505.8,122.8 L506.3,123.1 L506.8,123.4 L507.4,123.8 L507.9,124.1 L508.4,124.4 L509.0,124.7 L509.5,125.1 L510.1,125.4 L510.6,125.7 L511.1,126.1 L511.7,126.4 L512.2,126.7 L512.7,127.0 L513.3,127.4 L513.8,127.7 L514.4,128.0 L514.9,128.4 L515.4,128.7 L516.0,129.0 L516.5,129.3 L517.0,129.7 L517.6,130.0 L518.1,130.3 L518.6,130.6 L519.2,131.0 L519.7,131.3 L520.3,131.6 L520.8,131.9 L521.3,132.3 L521.9,132.6 L522.4,132.9 L522.9,133.2 L523.5,133.6 L524.0,133.9 L524.6,134.2 L525.1,134.5 L525.6,134.8 L526.2,135.2 L526.7,135.5 L527.2,135.8 L527.8,136.1 L528.3,136.5 L528.9,136.8 L529.4,137.1 L529.9,137.4 L530.5,137.7 L531.0,138.1 L531.5,138.4 L532.1,138.7 L532.6,139.0 L533.2,139.3 L533.7,139.7 L534.2,140.0 L534.8,140.3 L535.3,140.6 L535.8,140.9 L536.4,141.2 L536.9,141.6 L537.5,141.9 L538.0,142.2 L538.5,142.5 L539.1,142.8 L539.6,143.1 L540.1,143.5 L540.7,143.8 L541.2,144.1 L541.7,144.4 L542.3,144.7 L542.8,145.0 L543.4,145.4 L543.9,145.7 L544.4,146.0 L545.0,146.3 L545.5,146.6 L546.0,146.9 L546.6,147.2 L547.1,147.6 L547.7,147.9 L548.2,148.2 L548.7,148.5 L549.3,148.8 L549.8,149.1 L550.3,149.4 L550.9,149.7 L551.4,150.1 L552.0,150.4 L552.5,150.7 L553.0,151.0 L553.6,151.3 L554.1,151.6 L554.6,151.9 L555.2,152.2 L555.7,152.5 L556.3,152.8 L556.8,153.2 L557.3,153.5 L557.9,153.8 L558.4,154.1 L558.9,154.4 L559.5,154.7 L560.0,155.0 L560.5,155.3 L561.1,155.6 L561.6,155.9 L562.2,156.2 L562.7,156.6 L563.2,156.9 L563.8,157.2 L564.3,157.5 L564.8,157.8 L565.4,158.1 L565.9,158.4 L566.5,158.7 L567.0,159.1 L567.5,159.4 L568.1,159.7 L568.6,160.0 L569.1,160.3 L569.7,160.6 L570.2,160.9 L570.8,161.2 L571.3,161.5 L571.8,161.8 L572.4,162.1 L572.9,162.4 L573.4,162.7 L574.0,163.0 L574.5,163.3 L575.1,163.5 L575.6,163.8 L576.1,164.1 L576.7,164.4 L577.2,164.6 L577.7,164.9 L578.3,165.2 L578.8,165.4 L579.4,165.7 L579.9,165.9 L580.4,166.2 L581.0,166.4 L581.5,166.7 L582.0,166.9 L582.6,167.1 L583.1,167.4 L583.6,167.6 L584.2,167.8 L584.7,168.1 L585.3,168.3 L585.8,168.5 L586.3,168.7 L586.9,169.0 L587.4,169.2 L587.9,169.4 L588.5,169.6 L589.0,169.8 L589.6,170.1 L590.1,170.3 L590.6,170.5 L591.2,170.7 L591.7,171.0 L592.2,171.2 L592.8,171.4 L593.3,171.6 L593.9,171.9 L594.4,172.1 L594.9,172.3 L595.5,172.6 L596.0,172.8 L596.5,173.1 L597.1,173.3 L597.6,173.5 L598.2,173.8 L598.7,174.0 L599.2,174.3 L599.8,174.6 L600.3,174.8 L600.8,175.1 L601.4,175.4 L601.9,175.7 L602.4,175.9 L603.0,176.3 L603.5,176.6 L604.1,176.9 L604.6,177.2" stroke="#0055ff" stroke-width="2.5" stroke-dasharray="1.8 1.1 1.8 4.7"/>
<path d="M336.5,249.9 L337.1,249.7 L337.6,249.4 L338.2,249.2 L338.7,248.9 L339.2,248.7 L339.8,248.4 L340.3,248.2 L340.8,248.0 L341.4,247.8 L341.9,247.7 L342.5,247.5 L343.0,247.4 L343.5,247.3 L344.1,247.2 L344.6,247.1 L345.1,247.0 L345.7,246.9 L346.2,246.8 L346.8,246.8 L347.3,246.7 L347.8,246.6 L348.4,246.5 L348.9,246.5 L349.4,246.4 L350.0,246.3 L350.5,246.3 L351.1,246.2 L351.6,246.2 L352.1,246.2 L352.7,246.1 L353.2,246.1 L353.7,246.1 L354.3,246.1 L354.8,246.1 L355.3,246.1 L355.9,246.1 L356.4,246.1 L357.0,246.2 L357.5,246.2 L358.0,246.2 L358.6,246.3 L359.1,246.3 L359.6,246.4 L360.2,246.4 L360.7,246.5 L361.3,246.5 L361.8,246.6 L362.3,246.7 L362.9,246.8 L363.4,246.8 L363.9,246.9 L364.5,247.0 L365.0,247.1 L365.6,247.2 L366.1,247.3 L366.6,247.4 L367.2,247.5 L367.7,247.5 L368.2,247.6 L368.8,247.7 L369.3,247.8 L369.9,247.9 L370.4,248.0 L370.9,248.1 L371.5,248.2 L372.0,248.3 L372.5,248.4 L373.1,248.5 L373.6,248.6 L374.1,248.7 L374.7,248.8 L375.2,248.9 L375.8,248.9 L376.3,249.0 L376.8,249.1 L377.4,249.2 L377.9,249.3 L378.4,249.4 L379.0,249.5 L379.5,249.6 L380.1,249.7 L380.6,249.9 L381.1,250.0 L381.7,250.1 L382.2,250.2 L382.7,250.3 L383.3,250.4 L383.8,250.5 L384.4,250.7 L384.9,250.8 L385.4,250.9 L386.0,251.0 L386.5,251.1 L387.0,251.2 L387.6,251.4 L388.1,251.5 L388.7,251.6 L389.2,251.7 L389.7,251.8 L390.3,251.9 L390.8,252.0 L391.3,252.2 L391.9,252.3 L392.4,252.4 L393.0,252.5 L393.5,252.6 L394.0,252.7 L394.6,252.8 L395.1,252.9 L395.6,253.0 L396.2,253.1 L396.7,253.2 L397.2,253.2 L397.8,253.3 L398.3,253.4 L398.9,253.5 L399.4,253.6 L399.9,253.7 L400.5,253.8 L401.0,253.9 L401.5,253.9 L402.1,254.0 L402.6,254.1 L403.2,254.2 L403.7,254.3 L404.2,254.4 L404.8,254.5 L405.3,254.6 L405.8,254.7 L406.4,254.8 L406.9,254.9 L407.5,255.0 L408.0,255.0 L408.5,255.1 L409.1,255.2 L409.6,255.3 L410.1,255.4 L410.7,255.4 L411.2,255.5 L411.8,255.6 L412.3,255.6 L412.8,255.7 L413.4,255.8 L413.9,255.8 L414.4,255.9 L415.0,255.9 L415.5,256.0 L416.0,256.0 L416.6,256.0 L417.1,256.1 L417.7,256.1 L418.2,256.1 L418.7,256.1 L419.3,256.1 L419.8,256.1 L420.3,256.1 L420.9,256.1 L421.4,256.1 L422.0,256.1 L422.5,256.1 L423.0,256.0 L423.6,256.0 L424.1,256.0 L424.6,255.9 L425.2,255.9 L425.7,255.8 L426.3,255.8 L426.8,255.7 L427.3,255.6 L427.9,255.6 L428.4,255.5 L428.9,255.4 L429.5,255.4 L430.0,255.3 L430.6,255.2 L431.1,255.1 L431.6,255.0 L432.2,254.9 L432.7,254.9 L433.2,254.8 L433.8,254.7 L434.3,254.6 L434.9,254.5 L435.4,254.4 L435.9,254.3 L436.5,254.2 L437.0,254.1 L437.5,254.0 L438.1,253.9 L438.6,253.8 L439.1,253.8 L439.7,253.7 L440.2,253.6 L440.8,253.5 L441.3,253.4 L441.8,253.3 L442.4,253.3 L442.9,253.2 L443.4,253.1 L444.0,253.0 L444.5,252.9 L445.1,252.8 L445.6,252.8 L446.1,252.7 L446.7,252.6 L447.2,252.5 L447.7,252.4 L448.3,252.3 L448.8,252.2 L449.4,252.1 L449.9,252.0 L450.4,252.0 L451.0,251.9 L451.5,251.8 L452.0,251.7 L452.6,251.6 L453.1,251.5 L453.7,251.4 L454.2,251.3 L454.7,251.2 L455.3,251.1 L455.8,251.0 L456.3,250.9 L456.9,250.8 L457.4,250.7 L457.9,250.6 L458.5,250.5 L459.0,250.4 L459.6,250.3 L460.1,250.2 L460.6,250.1 L461.2,250.0 L461.7,249.9 L462.2,249.8 L462.8,249.8 L463.3,249.7 L463.9,249.6 L464.4,249.5 L464.9,249.4 L465.5,249.3 L466.0,249.2 L466.5,249.1 L467.1,249.0 L467.6,248.9 L468.2,248.9 L468.7,248.8 L469.2,248.7 L469.8,248.6 L470.3,248.5 L470.8,248.4 L471.4,248.3 L471.9,248.3 L472.5,248.2 L473.0,248.1 L473.5,248.0 L474.1,247.9 L474.6,247.8 L475.1,247.7 L475.7,247.7 L476.2,247.6 L476.8,247.5 L477.3,247.4 L477.8,247.3 L478.4,247.2 L478.9,247.2 L479.4,247.1 L480.0,247.0 L480.5,246.9 L481.0,246.8 L481.6,246.7 L482.1,246.7 L482.7,246.6 L483.2,246.5 L483.7,246.4 L484.3,246.3 L484.8,246.3 L485.3,246.2 L485.9,246.1 L486.4,246.0 L487.0,245.9 L487.5,245.9 L488.0,245.8 L488.6,245.7 L489.1,245.7 L489.6,245.6 L490.2,245.5 L490.7,245.4 L491.3,245.4 L491.8,245.3 L492.3,245.2 L492.9,245.2 L493.4,245.1 L493.9,245.1 L494.5,245.0 L495.0,244.9 L495.6,244.9 L496.1,244.8 L496.6,244.8 L497.2,244.7 L497.7,244.7 L498.2,244.6 L498.8,244.6 L499.3,244.5 L499.8,244.4 L500.4,244.4 L500.9,244.3 L501.5,244.3 L502.0,244.2 L502.5,244.2 L503.1,244.1 L503.6,244.1 L504.1,244.0 L504.7,244.0 L505.2,244.0 L505.8,243.9 L506.3,243.9 L506.8,243.8 L507.4,243.8 L507.9,243.7 L508.4,243.7 L509.0,243.6 L509.5,243.6 L510.1,243.5 L510.6,243.5 L511.1,243.5 L511.7,243.4 L512.2,243.4 L512.7,243.3 L513.3,243.3 L513.8,243.3 L514.4,243.2 L514.9,243.2 L515.4,243.1 L516.0,243.1 L516.5,243.1 L517.0,243.0 L517.6,243.0 L518.1,243.0 L518.6,242.9 L519.2,242.9 L519.7,242.9 L520.3,242.8 L520.8,242.8 L521.3,242.8 L521.9,242.7 L522.4,242.7 L522.9,242.7 L523.5,242.6 L524.0,242.6 L524.6,242.6 L525.1,242.6 L525.6,242.5 L526.2,242.5 L526.7,242.5 L527.2,242.5 L527.8,242.4 L528.3,242.4 L528.9,242.4 L529.4,242.4 L529.9,242.3 L530.5,242.3 L531.0,242.3 L531.5,242.3 L532.1,242.2 L532.6,242.2 L533.2,242.2 L533.7,242.2 L534.2,242.2 L534.8,242.1 L535.3,242.1 L535.8,242.1 L536.4,242.1 L536.9,242.1 L537.5,242.0 L538.0,242.0 L538.5,242.0 L539.1,242.0 L539.6,242.0 L540.1,241.9 L540.7,241.9 L541.2,241.9 L541.7,241.9 L542.3,241.9 L542.8,241.8 L543.4,241.8 L543.9,241.8 L544.4,241.8 L545.0,241.8 L545.5,241.8 L546.0,241.7 L546.6,241.7 L547.1,241.7 L547.7,241.7 L548.2,241.7 L548.7,241.6 L549.3,241.6 L549.8,241.6 L550.3,241.6 L550.9,241.6 L551.4,241.5 L552.0,241.5 L552.5,241.5 L553.0,241.5 L553.6,241.4 L554.1,241.4 L554.6,241.4 L555.2,241.4 L555.7,241.4 L556.3,241.3 L556.8,241.3 L557.3,241.3 L557.9,241.3 L558.4,241.2 L558.9,241.2 L559.5,241.2 L560.0,241.2 L560.5,241.1 L561.1,241.1 L561.6,241.1 L562.2,241.1 L562.7,241.0 L563.2,241.0 L563.8,241.0 L564.3,241.0 L564.8,240.9 L565.4,240.9 L565.9,240.9 L566.5,240.9 L567.0,240.9 L567.5,240.8 L568.1,240.8 L568.6,240.8 L569.1,240.8 L569.7,240.7 L570.2,240.7 L570.8,240.7 L571.3,240.7 L571.8,240.6 L572.4,240.6 L572.9,240.6 L573.4,240.6 L574.0,240.6 L574.5,240.5 L575.1,240.5 L575.6,240.5 L576.1,240.5 L576.7,240.5 L577.2,240.5 L577.7,240.4 L578.3,240.4 L578.8,240.4 L579.4,240.4 L579.9,240.4 L580.4,240.4 L581.0,240.3 L581.5,240.3 L582.0,240.3 L582.6,240.3 L583.1,240.3 L583.6,240.3 L584.2,240.3 L584.7,240.2 L585.3,240.2 L585.8,240.2 L586.3,240.2 L586.9,240.2 L587.4,240.2 L587.9,240.2 L588.5,240.2 L589.0,240.1 L589.6,240.1 L590.1,240.1 L590.6,240.1 L591.2,240.1 L591.7,240.1 L592.2,240.1 L592.8,240.1 L593.3,240.1 L593.9,240.0 L594.4,240.0 L594.9,240.0 L595.5,240.0 L596.0,240.0 L596.5,240.0 L597.1,240.0 L597.6,240.0 L598.2,240.0 L598.7,240.0 L599.2,239.9 L599.8,239.9 L600.3,239.9 L600.8,239.9 L601.4,239.9 L601.9,239.9 L602.4,239.9 L603.0,239.9 L603.5,239.9 L604.1,239.9 L604.6,239.9" stroke="#ff0080" stroke-width="2.8"/>
</g>
<g fill="none" stroke-width="1">
<path d="M506.9,258V82" stroke="#ff2a3a" stroke-width="1.3" stroke-dasharray="6 1.2 1.2 1.2"/>
<path d="M504.2,90.5L506.9,81L509.6,90.5" stroke="#ff1020" stroke-width="1.3"/>
<path d="M492.2,258V221" stroke="#ffa500" stroke-width="1.2" stroke-dasharray="6 1.2 1.2 1.2"/>
<path d="M489.5,229L492.2,220.4L494.9,229" stroke="#ffa500" stroke-width="1.2"/>
</g>
<circle cx="510.5" cy="125.7" r="1.6" fill="#0055ff" stroke="#000" stroke-width="1.1"/>
<circle cx="504.9" cy="182.5" r="1.6" fill="#00ee00" stroke="#000" stroke-width="1.1"/>
<circle cx="508.3" cy="195.4" r="1.6" fill="#000" stroke="#000" stroke-width="1.1"/>
<circle cx="507.1" cy="244.8" r="1.6" fill="#ff0080" stroke="#000" stroke-width="1.1"/>
<g stroke="#000" fill="none">
<rect x="332.8" y="63.8" width="275" height="195.1" stroke-width="2.05"/>
<path d="M327.5,257.10H332.8M327.5,209.25H332.8M327.5,161.40H332.8M327.5,113.55H332.8M327.5,65.70H332.8M329.8,247.53H332.8M329.8,237.96H332.8M329.8,228.39H332.8M329.8,218.82H332.8M329.8,199.68H332.8M329.8,190.11H332.8M329.8,180.54H332.8M329.8,170.97H332.8M329.8,151.83H332.8M329.8,142.26H332.8M329.8,132.69H332.8M329.8,123.12H332.8M329.8,103.98H332.8M329.8,94.41H332.8M329.8,84.84H332.8M329.8,75.27H332.8M373.10,258.9V264.2M422.50,258.9V264.2M471.90,258.9V264.2M521.30,258.9V264.2M570.70,258.9V264.2M333.58,258.9V261.9M343.46,258.9V261.9M353.34,258.9V261.9M363.22,258.9V261.9M382.98,258.9V261.9M392.86,258.9V261.9M402.74,258.9V261.9M412.62,258.9V261.9M432.38,258.9V261.9M442.26,258.9V261.9M452.14,258.9V261.9M462.02,258.9V261.9M481.78,258.9V261.9M491.66,258.9V261.9M501.54,258.9V261.9M511.42,258.9V261.9M531.18,258.9V261.9M541.06,258.9V261.9M550.94,258.9V261.9M560.82,258.9V261.9M580.58,258.9V261.9M590.46,258.9V261.9M600.34,258.9V261.9" stroke-width="1.7"/>
</g>
<g class="se" font-size="26" text-anchor="end">
<text x="320.6" y="265.8">0</text>
<text x="320.6" y="218.0">1</text>
<text x="320.6" y="170.1">2</text>
<text x="320.6" y="122.3">3</text>
<text x="320.6" y="74.4">4</text>
</g>
<g class="se" font-size="26" text-anchor="middle">
<text x="376.3" y="283.9">6.5</text>
<text x="425.7" y="283.9">8</text>
<text x="475.1" y="283.9">9.5</text>
<text x="524.5" y="283.9" textLength="25" lengthAdjust="spacingAndGlyphs">11</text>
<text x="573.5" y="283.9" textLength="42.6" lengthAdjust="spacingAndGlyphs">12.5</text>
</g>
<text class="se" font-size="26" x="369.3" y="310.2" textLength="79.4" lengthAdjust="spacingAndGlyphs">Volume</text>
<text class="se" font-size="26" x="457.4" y="310.2" textLength="62.6" lengthAdjust="spacingAndGlyphs">/Atom</text>
<text class="se" font-size="26" x="527.4" y="310.2" textLength="25.8" lengthAdjust="spacingAndGlyphs">(Å</text>
<text class="se" font-size="19" x="554.6" y="298.4">3</text>
<text class="se" font-size="26" x="564.2" y="310.2">)</text>
<g transform="translate(299.2,0) rotate(-90)">
<text class="se" font-size="25.4" x="-227.9" y="0">ΔP(V)</text>
<text class="se" font-size="25.4" x="-141.2" y="0">(GPa)</text>
</g>
<path d="M273,235.1H300.4M273,154.2H300.4" stroke="#000" stroke-width="1.4" fill="none"/>
<text class="sa" font-size="24" transform="translate(469.8,94.0) scale(0.82,1)">V</text>
<text class="sa" font-size="17.7" x="483.5" y="100.6">o</text>
<text class="sa" font-size="18" x="493.8" y="82.9" textLength="65.2" lengthAdjust="spacingAndGlyphs">WIEN2k</text>
<text class="sa" font-size="24" transform="translate(449.3,230.4) scale(0.82,1)">V</text>
<text class="sa" font-size="17.7" x="462.5" y="236.8">o</text>
<text class="sa" font-size="18" x="472.7" y="219.6" textLength="33.4" lengthAdjust="spacingAndGlyphs">JTH</text>
</svg></body></html>
